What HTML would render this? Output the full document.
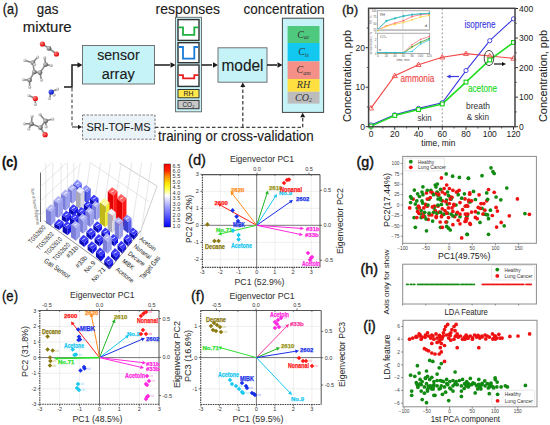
<!DOCTYPE html>
<html><head><meta charset="utf-8"><style>html,body{margin:0;padding:0;background:#fff;overflow:hidden}svg{display:block}</style></head>
<body><svg width="550" height="425" viewBox="0 0 550 425" font-family="Liberation Sans, sans-serif">
<rect width="550" height="425" fill="#fff"/>
<text x="2.70" y="13.60" font-size="14" fill="#1a1a1a" stroke="#1a1a1a" stroke-width="0.3" textLength="15.5" lengthAdjust="spacingAndGlyphs">(a)</text>
<text x="36.80" y="13.60" font-size="14" fill="#1a1a1a" stroke="#1a1a1a" stroke-width="0.15" textLength="21.5" lengthAdjust="spacingAndGlyphs">gas</text>
<text x="22.70" y="32.40" font-size="14" fill="#1a1a1a" stroke="#1a1a1a" stroke-width="0.15" textLength="49" lengthAdjust="spacingAndGlyphs">mixture</text>
<text x="155.50" y="14.20" font-size="15" fill="#1a1a1a" stroke="#1a1a1a" stroke-width="0.12" textLength="64.5" lengthAdjust="spacingAndGlyphs">responses</text>
<text x="243.60" y="13.80" font-size="15" fill="#1a1a1a" stroke="#1a1a1a" stroke-width="0.12" textLength="81" lengthAdjust="spacingAndGlyphs">concentration</text>
<defs>
<radialGradient id="gC" cx="35%" cy="35%" r="65%"><stop offset="0" stop-color="#d8d8d8"/><stop offset="1" stop-color="#555"/></radialGradient>
<radialGradient id="gH" cx="35%" cy="35%" r="65%"><stop offset="0" stop-color="#f4f4f4"/><stop offset="1" stop-color="#9a9a9a"/></radialGradient>
<radialGradient id="gO" cx="35%" cy="35%" r="65%"><stop offset="0" stop-color="#ff8080"/><stop offset="1" stop-color="#e00000"/></radialGradient>
<radialGradient id="gN" cx="35%" cy="35%" r="65%"><stop offset="0" stop-color="#6070ff"/><stop offset="1" stop-color="#0010c0"/></radialGradient>
<linearGradient id="cbar" x1="0" y1="0" x2="0" y2="1">
<stop offset="0" stop-color="#ff0000"/><stop offset="0.1" stop-color="#ff2000"/><stop offset="0.2" stop-color="#ff9000"/><stop offset="0.3" stop-color="#ffe000"/><stop offset="0.38" stop-color="#ffff30"/><stop offset="0.5" stop-color="#ffffff"/><stop offset="0.68" stop-color="#a0a0ff"/><stop offset="1" stop-color="#0000ff"/></linearGradient>
</defs>
<line x1="42.40" y1="44.00" x2="49.00" y2="48.40" stroke="#8a8a8a" stroke-width="1.6" />
<line x1="49.00" y1="48.40" x2="56.40" y2="54.00" stroke="#8a8a8a" stroke-width="1.6" />
<circle cx="42.40" cy="44.00" r="2.60" fill="url(#gO)" stroke="none" stroke-width="1"/>
<circle cx="49.00" cy="48.40" r="2.40" fill="url(#gC)" stroke="none" stroke-width="1"/>
<circle cx="56.40" cy="54.00" r="2.60" fill="url(#gO)" stroke="none" stroke-width="1"/>
<line x1="32.90" y1="62.70" x2="34.30" y2="72.10" stroke="#8a8a8a" stroke-width="1.6" />
<line x1="34.30" y1="72.10" x2="40.00" y2="72.60" stroke="#8a8a8a" stroke-width="1.6" />
<line x1="40.00" y1="72.60" x2="45.60" y2="64.60" stroke="#8a8a8a" stroke-width="1.6" />
<line x1="34.30" y1="72.10" x2="29.60" y2="80.10" stroke="#8a8a8a" stroke-width="1.6" />
<line x1="32.90" y1="62.70" x2="24.90" y2="60.40" stroke="#8a8a8a" stroke-width="1.6" />
<line x1="32.90" y1="62.70" x2="37.60" y2="57.10" stroke="#8a8a8a" stroke-width="1.6" />
<line x1="45.60" y1="64.60" x2="44.70" y2="57.50" stroke="#8a8a8a" stroke-width="1.6" />
<line x1="45.60" y1="64.60" x2="51.30" y2="65.50" stroke="#8a8a8a" stroke-width="1.6" />
<line x1="40.00" y1="72.60" x2="41.40" y2="80.10" stroke="#8a8a8a" stroke-width="1.6" />
<line x1="29.60" y1="80.10" x2="23.50" y2="79.70" stroke="#8a8a8a" stroke-width="1.6" />
<line x1="29.60" y1="80.10" x2="29.60" y2="87.20" stroke="#8a8a8a" stroke-width="1.6" />
<circle cx="32.90" cy="62.70" r="2.40" fill="url(#gC)" stroke="none" stroke-width="1"/>
<circle cx="34.30" cy="72.10" r="2.40" fill="url(#gC)" stroke="none" stroke-width="1"/>
<circle cx="40.00" cy="72.60" r="2.40" fill="url(#gC)" stroke="none" stroke-width="1"/>
<circle cx="45.60" cy="64.60" r="2.40" fill="url(#gC)" stroke="none" stroke-width="1"/>
<circle cx="29.60" cy="80.10" r="2.40" fill="url(#gC)" stroke="none" stroke-width="1"/>
<circle cx="24.90" cy="60.40" r="1.60" fill="url(#gH)" stroke="none" stroke-width="1"/>
<circle cx="37.60" cy="57.10" r="1.60" fill="url(#gH)" stroke="none" stroke-width="1"/>
<circle cx="44.70" cy="57.50" r="1.60" fill="url(#gH)" stroke="none" stroke-width="1"/>
<circle cx="51.30" cy="65.50" r="1.60" fill="url(#gH)" stroke="none" stroke-width="1"/>
<circle cx="41.40" cy="80.10" r="1.60" fill="url(#gH)" stroke="none" stroke-width="1"/>
<circle cx="23.50" cy="79.70" r="1.60" fill="url(#gH)" stroke="none" stroke-width="1"/>
<circle cx="29.60" cy="87.20" r="1.60" fill="url(#gH)" stroke="none" stroke-width="1"/>
<circle cx="34.50" cy="64.50" r="1.60" fill="url(#gH)" stroke="none" stroke-width="1"/>
<line x1="35.30" y1="98.50" x2="28.80" y2="95.60" stroke="#8a8a8a" stroke-width="1.6" />
<line x1="35.30" y1="98.50" x2="35.30" y2="104.40" stroke="#8a8a8a" stroke-width="1.6" />
<circle cx="35.30" cy="98.50" r="2.60" fill="url(#gO)" stroke="none" stroke-width="1"/>
<circle cx="28.80" cy="95.60" r="1.60" fill="url(#gH)" stroke="none" stroke-width="1"/>
<circle cx="35.30" cy="104.40" r="1.60" fill="url(#gH)" stroke="none" stroke-width="1"/>
<line x1="51.20" y1="92.00" x2="57.60" y2="89.10" stroke="#8a8a8a" stroke-width="1.6" />
<line x1="51.20" y1="92.00" x2="54.10" y2="95.00" stroke="#8a8a8a" stroke-width="1.6" />
<line x1="51.20" y1="92.00" x2="49.40" y2="98.50" stroke="#8a8a8a" stroke-width="1.6" />
<circle cx="51.20" cy="92.00" r="2.60" fill="url(#gN)" stroke="none" stroke-width="1"/>
<circle cx="57.60" cy="89.10" r="1.60" fill="url(#gH)" stroke="none" stroke-width="1"/>
<circle cx="54.10" cy="95.00" r="1.60" fill="url(#gH)" stroke="none" stroke-width="1"/>
<circle cx="49.40" cy="98.50" r="1.60" fill="url(#gH)" stroke="none" stroke-width="1"/>
<line x1="31.50" y1="123.80" x2="40.40" y2="127.60" stroke="#8a8a8a" stroke-width="1.6" />
<line x1="40.40" y1="127.60" x2="45.60" y2="121.00" stroke="#8a8a8a" stroke-width="1.6" />
<line x1="40.40" y1="127.60" x2="45.10" y2="134.70" stroke="#8a8a8a" stroke-width="1.6" />
<line x1="31.50" y1="123.80" x2="32.00" y2="116.30" stroke="#8a8a8a" stroke-width="1.6" />
<line x1="31.50" y1="123.80" x2="24.40" y2="123.80" stroke="#8a8a8a" stroke-width="1.6" />
<line x1="31.50" y1="123.80" x2="28.70" y2="129.00" stroke="#8a8a8a" stroke-width="1.6" />
<line x1="45.60" y1="121.00" x2="40.00" y2="114.40" stroke="#8a8a8a" stroke-width="1.6" />
<line x1="45.60" y1="121.00" x2="52.70" y2="119.10" stroke="#8a8a8a" stroke-width="1.6" />
<line x1="45.60" y1="121.00" x2="46.10" y2="126.70" stroke="#8a8a8a" stroke-width="1.6" />
<circle cx="31.50" cy="123.80" r="2.40" fill="url(#gC)" stroke="none" stroke-width="1"/>
<circle cx="40.40" cy="127.60" r="2.40" fill="url(#gC)" stroke="none" stroke-width="1"/>
<circle cx="45.60" cy="121.00" r="2.40" fill="url(#gC)" stroke="none" stroke-width="1"/>
<circle cx="45.10" cy="134.70" r="2.60" fill="url(#gO)" stroke="none" stroke-width="1"/>
<circle cx="32.00" cy="116.30" r="1.60" fill="url(#gH)" stroke="none" stroke-width="1"/>
<circle cx="24.40" cy="123.80" r="1.60" fill="url(#gH)" stroke="none" stroke-width="1"/>
<circle cx="28.70" cy="129.00" r="1.60" fill="url(#gH)" stroke="none" stroke-width="1"/>
<circle cx="40.00" cy="114.40" r="1.60" fill="url(#gH)" stroke="none" stroke-width="1"/>
<circle cx="52.70" cy="119.10" r="1.60" fill="url(#gH)" stroke="none" stroke-width="1"/>
<circle cx="46.10" cy="126.70" r="1.60" fill="url(#gH)" stroke="none" stroke-width="1"/>
<polyline points="64.00,87.00 72.00,87.00 72.00,65.00 78.00,65.00" fill="none" stroke="#1a1a1a" stroke-width="1.5" />
<polygon points="82.50,65.00 77.50,67.80 77.50,62.20" fill="#1a1a1a" stroke="none" stroke-width="1" />
<line x1="72.00" y1="88.00" x2="72.00" y2="127.00" stroke="#666" stroke-width="1.3" stroke-dasharray="3.5,2.2" />
<line x1="72.00" y1="127.00" x2="78.00" y2="127.00" stroke="#444" stroke-width="1.2" />
<polygon points="82.00,127.00 78.00,129.20 78.00,124.80" fill="#1a1a1a" stroke="none" stroke-width="1" />
<rect x="82.50" y="45.50" width="72.00" height="38.50" fill="#c5f3f8" stroke="#666" stroke-width="0.9" />
<text x="118.40" y="59.50" font-size="15.5" fill="#1a1a1a" stroke="#1a1a1a" stroke-width="0.12" text-anchor="middle" textLength="42.5" lengthAdjust="spacingAndGlyphs">sensor</text>
<text x="118.20" y="78.50" font-size="15.5" fill="#1a1a1a" stroke="#1a1a1a" stroke-width="0.12" text-anchor="middle" textLength="33" lengthAdjust="spacingAndGlyphs">array</text>
<line x1="154.50" y1="65.00" x2="170.00" y2="65.00" stroke="#1a1a1a" stroke-width="1.5" />
<polygon points="175.50,65.00 170.50,67.80 170.50,62.20" fill="#1a1a1a" stroke="none" stroke-width="1" />
<rect x="175.50" y="17.30" width="26.00" height="94.50" fill="#c5f3f8" stroke="#666" stroke-width="0.9" />
<rect x="178.00" y="19.60" width="21.00" height="20.80" fill="#fff" stroke="#333" stroke-width="1.4" />
<polyline points="178.80,27.30 183.00,27.30 183.00,34.80 194.30,34.80 194.30,27.30 198.20,27.30" fill="none" stroke="#20b040" stroke-width="1.8" />
<rect x="178.00" y="42.70" width="21.00" height="20.00" fill="#fff" stroke="#333" stroke-width="1.4" />
<polyline points="178.80,47.00 183.00,47.00 183.00,58.70 194.30,58.70 194.30,47.00 198.20,47.00" fill="none" stroke="#1a7ad8" stroke-width="1.8" />
<rect x="178.00" y="65.00" width="21.00" height="21.40" fill="#fff" stroke="#333" stroke-width="1.4" />
<polyline points="178.80,75.20 183.00,75.20 183.00,78.40 194.30,78.40 194.30,75.20 198.20,75.20" fill="none" stroke="#e82020" stroke-width="1.8" />
<rect x="178.00" y="89.50" width="21.00" height="8.30" fill="#ffe84a" stroke="#333" stroke-width="1" />
<text x="188.50" y="96.20" font-size="7.5" fill="#222" text-anchor="middle" textLength="10" lengthAdjust="spacingAndGlyphs">RH</text>
<rect x="178.00" y="100.40" width="21.00" height="8.30" fill="#c8c8c8" stroke="#333" stroke-width="1" />
<text x="188.50" y="107.20" font-size="7.5" fill="#222" text-anchor="middle" textLength="12" lengthAdjust="spacingAndGlyphs">CO₂</text>
<line x1="201.50" y1="65.00" x2="212.00" y2="65.00" stroke="#1a1a1a" stroke-width="1.5" />
<polygon points="218.00,65.00 213.00,67.80 213.00,62.20" fill="#1a1a1a" stroke="none" stroke-width="1" />
<rect x="218.00" y="47.80" width="49.00" height="34.40" fill="#c5f3f8" stroke="#666" stroke-width="0.9" />
<text x="242.50" y="70.50" font-size="16" fill="#1a1a1a" stroke="#1a1a1a" stroke-width="0.12" text-anchor="middle" textLength="42" lengthAdjust="spacingAndGlyphs">model</text>
<line x1="267.00" y1="65.00" x2="277.00" y2="65.00" stroke="#1a1a1a" stroke-width="1.5" />
<polygon points="282.50,65.00 277.50,67.80 277.50,62.20" fill="#1a1a1a" stroke="none" stroke-width="1" />
<rect x="282.40" y="18.20" width="41.20" height="94.20" fill="#c5f3f8" stroke="#444" stroke-width="1" />
<rect x="287.60" y="26.00" width="31.90" height="17.00" fill="#4fc97e" stroke="none" stroke-width="1" />
<text x="303.5" y="37.50" font-size="10" fill="#333" font-family="Liberation Serif" font-style="italic" text-anchor="middle">C<tspan font-size="6" dy="1.5">ac</tspan></text>
<rect x="287.60" y="43.00" width="31.90" height="18.30" fill="#12c8f0" stroke="none" stroke-width="1" />
<text x="303.5" y="55.15" font-size="10" fill="#333" font-family="Liberation Serif" font-style="italic" text-anchor="middle">C<tspan font-size="6" dy="1.5">is</tspan></text>
<rect x="287.60" y="61.30" width="31.90" height="17.70" fill="#f59088" stroke="none" stroke-width="1" />
<text x="303.5" y="73.15" font-size="10" fill="#333" font-family="Liberation Serif" font-style="italic" text-anchor="middle">C<tspan font-size="6" dy="1.5">am</tspan></text>
<rect x="287.60" y="79.00" width="31.90" height="12.80" fill="#ffe040" stroke="none" stroke-width="1" />
<text x="303.5" y="88.40" font-size="10" fill="#333" font-family="Liberation Serif" font-style="italic" text-anchor="middle">RH</text>
<rect x="287.60" y="91.80" width="31.90" height="11.80" fill="#bdbdbd" stroke="none" stroke-width="1" />
<text x="303.5" y="100.70" font-size="10" fill="#333" font-family="Liberation Serif" font-style="italic" text-anchor="middle">CO<tspan font-size="6" dy="1.5">2</tspan></text>
<rect x="82.50" y="115.00" width="72.50" height="24.20" fill="#eaf3f8" stroke="#777" stroke-width="1" stroke-dasharray="2.5,1.5" />
<text x="118.50" y="130.50" font-size="11.4" fill="#1a1a1a" stroke="#1a1a1a" stroke-width="0.08" text-anchor="middle" textLength="64" lengthAdjust="spacingAndGlyphs">SRI-TOF-MS</text>
<line x1="155.00" y1="127.30" x2="302.70" y2="127.30" stroke="#444" stroke-width="1.3" stroke-dasharray="3.5,2.2" />
<line x1="242.80" y1="127.30" x2="242.80" y2="87.00" stroke="#444" stroke-width="1.3" stroke-dasharray="3.5,2.2" />
<polygon points="242.80,82.50 245.30,87.00 240.30,87.00" fill="#1a1a1a" stroke="none" stroke-width="1" />
<line x1="302.70" y1="127.30" x2="302.70" y2="118.00" stroke="#444" stroke-width="1.3" stroke-dasharray="3.5,2.2" />
<polygon points="302.70,112.80 305.20,117.30 300.20,117.30" fill="#1a1a1a" stroke="none" stroke-width="1" />
<text x="158.00" y="141.00" font-size="14" fill="#1a1a1a" stroke="#1a1a1a" stroke-width="0.12" textLength="155.7" lengthAdjust="spacingAndGlyphs">training or cross-validation</text>
<text x="341.90" y="13.60" font-size="13.5" fill="#1a1a1a" stroke="#1a1a1a" stroke-width="0.3" textLength="16.4" lengthAdjust="spacingAndGlyphs">(b)</text>
<line x1="365.60" y1="126.70" x2="368.60" y2="126.70" stroke="#333" stroke-width="1" />
<text x="365.00" y="129.70" font-size="8.5" fill="#222" text-anchor="end">0</text>
<line x1="365.60" y1="87.20" x2="368.60" y2="87.20" stroke="#333" stroke-width="1" />
<text x="365.00" y="90.20" font-size="8.5" fill="#222" text-anchor="end">10</text>
<line x1="365.60" y1="47.70" x2="368.60" y2="47.70" stroke="#333" stroke-width="1" />
<text x="365.00" y="50.70" font-size="8.5" fill="#222" text-anchor="end">20</text>
<line x1="366.80" y1="106.95" x2="368.60" y2="106.95" stroke="#333" stroke-width="0.8" />
<line x1="366.80" y1="67.45" x2="368.60" y2="67.45" stroke="#333" stroke-width="0.8" />
<line x1="366.80" y1="27.95" x2="368.60" y2="27.95" stroke="#333" stroke-width="0.8" />
<line x1="515.00" y1="126.70" x2="518.00" y2="126.70" stroke="#333" stroke-width="1" />
<text x="519.00" y="129.70" font-size="8.5" fill="#222">0</text>
<line x1="515.00" y1="97.15" x2="518.00" y2="97.15" stroke="#333" stroke-width="1" />
<text x="519.00" y="100.15" font-size="8.5" fill="#222">100</text>
<line x1="515.00" y1="67.60" x2="518.00" y2="67.60" stroke="#333" stroke-width="1" />
<text x="519.00" y="70.60" font-size="8.5" fill="#222">200</text>
<line x1="515.00" y1="38.05" x2="518.00" y2="38.05" stroke="#333" stroke-width="1" />
<text x="519.00" y="41.05" font-size="8.5" fill="#222">300</text>
<line x1="515.00" y1="8.50" x2="518.00" y2="8.50" stroke="#333" stroke-width="1" />
<text x="519.00" y="11.50" font-size="8.5" fill="#222">400</text>
<line x1="515.00" y1="111.93" x2="516.80" y2="111.93" stroke="#333" stroke-width="0.8" />
<line x1="515.00" y1="82.38" x2="516.80" y2="82.38" stroke="#333" stroke-width="0.8" />
<line x1="515.00" y1="52.83" x2="516.80" y2="52.83" stroke="#333" stroke-width="0.8" />
<line x1="515.00" y1="23.28" x2="516.80" y2="23.28" stroke="#333" stroke-width="0.8" />
<line x1="371.00" y1="126.70" x2="371.00" y2="129.70" stroke="#333" stroke-width="1" />
<text x="371.00" y="136.80" font-size="8.5" fill="#222" text-anchor="middle">0</text>
<line x1="394.75" y1="126.70" x2="394.75" y2="129.70" stroke="#333" stroke-width="1" />
<text x="394.75" y="136.80" font-size="8.5" fill="#222" text-anchor="middle">20</text>
<line x1="418.50" y1="126.70" x2="418.50" y2="129.70" stroke="#333" stroke-width="1" />
<text x="418.50" y="136.80" font-size="8.5" fill="#222" text-anchor="middle">40</text>
<line x1="442.25" y1="126.70" x2="442.25" y2="129.70" stroke="#333" stroke-width="1" />
<text x="442.25" y="136.80" font-size="8.5" fill="#222" text-anchor="middle">60</text>
<line x1="466.00" y1="126.70" x2="466.00" y2="129.70" stroke="#333" stroke-width="1" />
<text x="466.00" y="136.80" font-size="8.5" fill="#222" text-anchor="middle">80</text>
<line x1="489.75" y1="126.70" x2="489.75" y2="129.70" stroke="#333" stroke-width="1" />
<text x="489.75" y="136.80" font-size="8.5" fill="#222" text-anchor="middle">100</text>
<line x1="513.50" y1="126.70" x2="513.50" y2="129.70" stroke="#333" stroke-width="1" />
<text x="513.50" y="136.80" font-size="8.5" fill="#222" text-anchor="middle">120</text>
<line x1="382.88" y1="126.70" x2="382.88" y2="128.50" stroke="#333" stroke-width="0.8" />
<line x1="406.62" y1="126.70" x2="406.62" y2="128.50" stroke="#333" stroke-width="0.8" />
<line x1="430.38" y1="126.70" x2="430.38" y2="128.50" stroke="#333" stroke-width="0.8" />
<line x1="454.12" y1="126.70" x2="454.12" y2="128.50" stroke="#333" stroke-width="0.8" />
<line x1="477.88" y1="126.70" x2="477.88" y2="128.50" stroke="#333" stroke-width="0.8" />
<line x1="501.62" y1="126.70" x2="501.62" y2="128.50" stroke="#333" stroke-width="0.8" />
<text x="421.30" y="146.30" font-size="9" fill="#222" stroke="#222" stroke-width="0.05" textLength="34" lengthAdjust="spacingAndGlyphs">time, min</text>
<text x="351.00" y="76.00" font-size="11" fill="#222" stroke="#222" stroke-width="0.05" text-anchor="middle" transform="rotate(-90 351.00 76.00)" textLength="92" lengthAdjust="spacingAndGlyphs">Concentration, ppb</text>
<text x="546.50" y="76.00" font-size="11" fill="#222" stroke="#222" stroke-width="0.05" text-anchor="middle" transform="rotate(-90 546.50 76.00)" textLength="92" lengthAdjust="spacingAndGlyphs">Concentration, ppb</text>
<line x1="442.25" y1="8.30" x2="442.25" y2="126.70" stroke="#999" stroke-width="1" stroke-dasharray="2,2" />
<polyline points="371.00,108.14 394.75,75.75 418.50,64.69 442.25,57.18 466.00,53.62 489.75,56.00 513.50,58.36" fill="none" stroke="#f04848" stroke-width="1.1" />
<polyline points="371.00,124.93 394.75,114.88 418.50,108.38 442.25,102.76 466.00,70.56 489.75,40.71 513.50,18.84" fill="none" stroke="#3a3ae0" stroke-width="1.1" />
<polyline points="371.00,126.11 394.75,115.47 418.50,109.56 442.25,103.95 466.00,82.08 489.75,59.92 513.50,42.48" fill="none" stroke="#22dd22" stroke-width="1.6" />
<polygon points="371.00,105.54 373.60,109.94 368.40,109.94" fill="none" stroke="#f04848" stroke-width="0.9" />
<polygon points="394.75,73.15 397.35,77.55 392.15,77.55" fill="none" stroke="#f04848" stroke-width="0.9" />
<polygon points="418.50,62.09 421.10,66.48 415.90,66.48" fill="none" stroke="#f04848" stroke-width="0.9" />
<polygon points="442.25,54.58 444.85,58.98 439.65,58.98" fill="none" stroke="#f04848" stroke-width="0.9" />
<polygon points="466.00,51.02 468.60,55.42 463.40,55.42" fill="none" stroke="#f04848" stroke-width="0.9" />
<polygon points="489.75,53.40 492.35,57.80 487.15,57.80" fill="none" stroke="#f04848" stroke-width="0.9" />
<polygon points="513.50,55.76 516.10,60.16 510.90,60.16" fill="none" stroke="#f04848" stroke-width="0.9" />
<circle cx="371.00" cy="124.93" r="2.10" fill="#fff" stroke="#3a3ae0" stroke-width="0.9"/>
<circle cx="394.75" cy="114.88" r="2.10" fill="#fff" stroke="#3a3ae0" stroke-width="0.9"/>
<circle cx="418.50" cy="108.38" r="2.10" fill="#fff" stroke="#3a3ae0" stroke-width="0.9"/>
<circle cx="442.25" cy="102.76" r="2.10" fill="#fff" stroke="#3a3ae0" stroke-width="0.9"/>
<circle cx="466.00" cy="70.56" r="2.10" fill="#fff" stroke="#3a3ae0" stroke-width="0.9"/>
<circle cx="489.75" cy="40.71" r="2.10" fill="#fff" stroke="#3a3ae0" stroke-width="0.9"/>
<circle cx="513.50" cy="18.84" r="2.10" fill="#fff" stroke="#3a3ae0" stroke-width="0.9"/>
<rect x="369.10" y="124.21" width="3.80" height="3.80" fill="#fff" stroke="#18d018" stroke-width="1.1" />
<rect x="392.85" y="113.57" width="3.80" height="3.80" fill="#fff" stroke="#18d018" stroke-width="1.1" />
<rect x="416.60" y="107.66" width="3.80" height="3.80" fill="#fff" stroke="#18d018" stroke-width="1.1" />
<rect x="440.35" y="102.05" width="3.80" height="3.80" fill="#fff" stroke="#18d018" stroke-width="1.1" />
<rect x="464.10" y="80.18" width="3.80" height="3.80" fill="#fff" stroke="#18d018" stroke-width="1.1" />
<rect x="487.85" y="58.02" width="3.80" height="3.80" fill="#fff" stroke="#18d018" stroke-width="1.1" />
<rect x="511.60" y="40.58" width="3.80" height="3.80" fill="#fff" stroke="#18d018" stroke-width="1.1" />
<rect x="368.60" y="8.30" width="146.40" height="118.40" fill="none" stroke="#444" stroke-width="1.5" />
<text x="400.40" y="82.30" font-size="10.5" fill="#f04848" stroke="#f04848" stroke-width="0.15" textLength="34" lengthAdjust="spacingAndGlyphs">ammonia</text>
<text x="464.40" y="27.50" font-size="10.5" fill="#3a3ae0" stroke="#3a3ae0" stroke-width="0.15" textLength="31" lengthAdjust="spacingAndGlyphs">isoprene</text>
<text x="468.00" y="91.80" font-size="10.5" fill="#18d818" stroke="#18d818" stroke-width="0.15" textLength="29" lengthAdjust="spacingAndGlyphs">acetone</text>
<text x="417.60" y="120.50" font-size="9" fill="#333" textLength="14" lengthAdjust="spacingAndGlyphs">skin</text>
<text x="466.00" y="109.20" font-size="9" fill="#333" textLength="24" lengthAdjust="spacingAndGlyphs">breath</text>
<text x="466.70" y="119.50" font-size="9" fill="#333" textLength="22.3" lengthAdjust="spacingAndGlyphs">&amp; skin</text>
<ellipse cx="489" cy="58" rx="4.8" ry="7.6" fill="none" stroke="#333" stroke-width="0.9"/>
<line x1="494.00" y1="64.00" x2="503.60" y2="64.00" stroke="#111" stroke-width="1.2" />
<polygon points="506.00,64.00 502.00,66.00 502.00,62.00" fill="#111" stroke="none" stroke-width="1" />
<line x1="459.00" y1="76.50" x2="448.90" y2="76.50" stroke="#3a3ae0" stroke-width="1.2" />
<polygon points="446.50,76.50 450.50,74.50 450.50,78.50" fill="#3a3ae0" stroke="none" stroke-width="1" />
<rect x="377.30" y="10.80" width="52.40" height="19.40" fill="#fff" stroke="#888" stroke-width="0.7" />
<rect x="377.30" y="33.20" width="52.40" height="20.30" fill="#fff" stroke="#888" stroke-width="0.7" />
<line x1="402.90" y1="10.80" x2="402.90" y2="30.20" stroke="#aaa" stroke-width="0.5" />
<line x1="402.90" y1="33.20" x2="402.90" y2="53.50" stroke="#aaa" stroke-width="0.5" />
<polyline points="377.80,29.68 386.37,20.63 394.93,18.04 403.50,15.97 412.07,14.42 420.63,13.90 429.20,13.39" fill="none" stroke="#30b8c0" stroke-width="0.7" />
<circle cx="377.80" cy="29.68" r="0.90" fill="#30b8c0" stroke="none" stroke-width="1"/>
<circle cx="386.37" cy="20.63" r="0.90" fill="#30b8c0" stroke="none" stroke-width="1"/>
<circle cx="394.93" cy="18.04" r="0.90" fill="#30b8c0" stroke="none" stroke-width="1"/>
<circle cx="403.50" cy="15.97" r="0.90" fill="#30b8c0" stroke="none" stroke-width="1"/>
<circle cx="412.07" cy="14.42" r="0.90" fill="#30b8c0" stroke="none" stroke-width="1"/>
<circle cx="420.63" cy="13.90" r="0.90" fill="#30b8c0" stroke="none" stroke-width="1"/>
<circle cx="429.20" cy="13.39" r="0.90" fill="#30b8c0" stroke="none" stroke-width="1"/>
<polyline points="377.80,30.20 386.37,25.80 394.93,23.22 403.50,20.63 412.07,16.49 420.63,14.68 429.20,13.90" fill="none" stroke="#ff6070" stroke-width="0.7" />
<circle cx="377.80" cy="30.20" r="0.90" fill="#ff6070" stroke="none" stroke-width="1"/>
<circle cx="386.37" cy="25.80" r="0.90" fill="#ff6070" stroke="none" stroke-width="1"/>
<circle cx="394.93" cy="23.22" r="0.90" fill="#ff6070" stroke="none" stroke-width="1"/>
<circle cx="403.50" cy="20.63" r="0.90" fill="#ff6070" stroke="none" stroke-width="1"/>
<circle cx="412.07" cy="16.49" r="0.90" fill="#ff6070" stroke="none" stroke-width="1"/>
<circle cx="420.63" cy="14.68" r="0.90" fill="#ff6070" stroke="none" stroke-width="1"/>
<circle cx="429.20" cy="13.90" r="0.90" fill="#ff6070" stroke="none" stroke-width="1"/>
<polyline points="377.80,30.72 386.37,26.32 394.93,24.25 403.50,22.44 412.07,19.85 420.63,17.01 429.20,15.46" fill="none" stroke="#ffd040" stroke-width="0.7" />
<circle cx="377.80" cy="30.72" r="0.90" fill="#ffd040" stroke="none" stroke-width="1"/>
<circle cx="386.37" cy="26.32" r="0.90" fill="#ffd040" stroke="none" stroke-width="1"/>
<circle cx="394.93" cy="24.25" r="0.90" fill="#ffd040" stroke="none" stroke-width="1"/>
<circle cx="403.50" cy="22.44" r="0.90" fill="#ffd040" stroke="none" stroke-width="1"/>
<circle cx="412.07" cy="19.85" r="0.90" fill="#ffd040" stroke="none" stroke-width="1"/>
<circle cx="420.63" cy="17.01" r="0.90" fill="#ffd040" stroke="none" stroke-width="1"/>
<circle cx="429.20" cy="15.46" r="0.90" fill="#ffd040" stroke="none" stroke-width="1"/>
<polyline points="377.80,29.42 386.37,21.15 394.93,18.56 403.50,16.23 412.07,14.68 420.63,13.90 429.20,13.39" fill="none" stroke="#30b8c0" stroke-width="0.7" />
<circle cx="377.80" cy="29.42" r="0.90" fill="#30b8c0" stroke="none" stroke-width="1"/>
<circle cx="386.37" cy="21.15" r="0.90" fill="#30b8c0" stroke="none" stroke-width="1"/>
<circle cx="394.93" cy="18.56" r="0.90" fill="#30b8c0" stroke="none" stroke-width="1"/>
<circle cx="403.50" cy="16.23" r="0.90" fill="#30b8c0" stroke="none" stroke-width="1"/>
<circle cx="412.07" cy="14.68" r="0.90" fill="#30b8c0" stroke="none" stroke-width="1"/>
<circle cx="420.63" cy="13.90" r="0.90" fill="#30b8c0" stroke="none" stroke-width="1"/>
<circle cx="429.20" cy="13.39" r="0.90" fill="#30b8c0" stroke="none" stroke-width="1"/>
<polyline points="377.80,52.82 386.37,52.82 394.93,52.82 403.50,52.82 412.07,44.70 420.63,39.29 429.20,36.58" fill="none" stroke="#ff6070" stroke-width="0.7" />
<circle cx="377.80" cy="52.82" r="0.80" fill="#ff6070" stroke="none" stroke-width="1"/>
<circle cx="386.37" cy="52.82" r="0.80" fill="#ff6070" stroke="none" stroke-width="1"/>
<circle cx="394.93" cy="52.82" r="0.80" fill="#ff6070" stroke="none" stroke-width="1"/>
<circle cx="403.50" cy="52.82" r="0.80" fill="#ff6070" stroke="none" stroke-width="1"/>
<circle cx="412.07" cy="44.70" r="0.80" fill="#ff6070" stroke="none" stroke-width="1"/>
<circle cx="420.63" cy="39.29" r="0.80" fill="#ff6070" stroke="none" stroke-width="1"/>
<circle cx="429.20" cy="36.58" r="0.80" fill="#ff6070" stroke="none" stroke-width="1"/>
<polyline points="377.80,52.82 386.37,52.82 394.93,52.82 403.50,52.82 412.07,47.41 420.63,42.67 429.20,39.29" fill="none" stroke="#ffd040" stroke-width="0.7" />
<circle cx="377.80" cy="52.82" r="0.80" fill="#ffd040" stroke="none" stroke-width="1"/>
<circle cx="386.37" cy="52.82" r="0.80" fill="#ffd040" stroke="none" stroke-width="1"/>
<circle cx="394.93" cy="52.82" r="0.80" fill="#ffd040" stroke="none" stroke-width="1"/>
<circle cx="403.50" cy="52.82" r="0.80" fill="#ffd040" stroke="none" stroke-width="1"/>
<circle cx="412.07" cy="47.41" r="0.80" fill="#ffd040" stroke="none" stroke-width="1"/>
<circle cx="420.63" cy="42.67" r="0.80" fill="#ffd040" stroke="none" stroke-width="1"/>
<circle cx="429.20" cy="39.29" r="0.80" fill="#ffd040" stroke="none" stroke-width="1"/>
<polyline points="377.80,52.82 386.37,52.82 394.93,52.82 403.50,52.82 412.07,46.73 420.63,42.00 429.20,38.61" fill="none" stroke="#20a050" stroke-width="0.7" />
<circle cx="377.80" cy="52.82" r="0.80" fill="#20a050" stroke="none" stroke-width="1"/>
<circle cx="386.37" cy="52.82" r="0.80" fill="#20a050" stroke="none" stroke-width="1"/>
<circle cx="394.93" cy="52.82" r="0.80" fill="#20a050" stroke="none" stroke-width="1"/>
<circle cx="403.50" cy="52.82" r="0.80" fill="#20a050" stroke="none" stroke-width="1"/>
<circle cx="412.07" cy="46.73" r="0.80" fill="#20a050" stroke="none" stroke-width="1"/>
<circle cx="420.63" cy="42.00" r="0.80" fill="#20a050" stroke="none" stroke-width="1"/>
<circle cx="429.20" cy="38.61" r="0.80" fill="#20a050" stroke="none" stroke-width="1"/>
<polyline points="377.80,52.48 386.37,52.48 394.93,52.48 403.50,52.48 412.07,51.47 420.63,44.03 429.20,39.97" fill="none" stroke="#20c0f0" stroke-width="0.7" />
<circle cx="377.80" cy="52.48" r="0.80" fill="#20c0f0" stroke="none" stroke-width="1"/>
<circle cx="386.37" cy="52.48" r="0.80" fill="#20c0f0" stroke="none" stroke-width="1"/>
<circle cx="394.93" cy="52.48" r="0.80" fill="#20c0f0" stroke="none" stroke-width="1"/>
<circle cx="403.50" cy="52.48" r="0.80" fill="#20c0f0" stroke="none" stroke-width="1"/>
<circle cx="412.07" cy="51.47" r="0.80" fill="#20c0f0" stroke="none" stroke-width="1"/>
<circle cx="420.63" cy="44.03" r="0.80" fill="#20c0f0" stroke="none" stroke-width="1"/>
<circle cx="429.20" cy="39.97" r="0.80" fill="#20c0f0" stroke="none" stroke-width="1"/>
<rect x="377.30" y="29.00" width="52.40" height="1.20" fill="#ccc" stroke="none" stroke-width="1" />
<text x="380.00" y="15.50" font-size="3.5" fill="#555">RH</text>
<text x="380.00" y="38.00" font-size="3.5" fill="#555">CO₂</text>
<text x="427.00" y="27.00" font-size="4" fill="#333" text-anchor="end">d</text>
<text x="379.00" y="51.00" font-size="4" fill="#333">e</text>
<text x="376.50" y="31.20" font-size="3" fill="#555" text-anchor="end">25</text>
<text x="376.50" y="24.73" font-size="3" fill="#555" text-anchor="end">50</text>
<text x="376.50" y="18.27" font-size="3" fill="#555" text-anchor="end">75</text>
<text x="376.50" y="11.80" font-size="3" fill="#555" text-anchor="end">100</text>
<text x="376.50" y="54.50" font-size="3" fill="#555" text-anchor="end">0</text>
<text x="376.50" y="47.73" font-size="3" fill="#555" text-anchor="end">1</text>
<text x="376.50" y="40.97" font-size="3" fill="#555" text-anchor="end">2</text>
<text x="376.50" y="34.20" font-size="3" fill="#555" text-anchor="end">3</text>
<text x="377.80" y="57.00" font-size="3" fill="#555" text-anchor="middle">0</text>
<text x="386.37" y="57.00" font-size="3" fill="#555" text-anchor="middle">20</text>
<text x="394.93" y="57.00" font-size="3" fill="#555" text-anchor="middle">40</text>
<text x="403.50" y="57.00" font-size="3" fill="#555" text-anchor="middle">60</text>
<text x="412.07" y="57.00" font-size="3" fill="#555" text-anchor="middle">80</text>
<text x="420.63" y="57.00" font-size="3" fill="#555" text-anchor="middle">100</text>
<text x="429.20" y="57.00" font-size="3" fill="#555" text-anchor="middle">120</text>
<text x="403.00" y="61.00" font-size="3.2" fill="#555" text-anchor="middle">time, min</text>
<text x="372.00" y="20.00" font-size="3" fill="#777" text-anchor="middle" transform="rotate(-90 372.00 20.00)">RH, %</text>
<text x="372.00" y="43.00" font-size="3" fill="#777" text-anchor="middle" transform="rotate(-90 372.00 43.00)">concentration, %</text>
<text x="2.00" y="167.00" font-size="14" fill="#111" stroke="#111" stroke-width="0.3" font-weight="bold" textLength="15.5" lengthAdjust="spacingAndGlyphs">(c)</text>
<line x1="40.50" y1="172.50" x2="40.50" y2="222.00" stroke="#555" stroke-width="0.9" />
<line x1="40.50" y1="173.00" x2="51.58" y2="162.70" stroke="#d6d6d6" stroke-width="0.6" />
<line x1="40.50" y1="187.00" x2="66.63" y2="162.70" stroke="#d6d6d6" stroke-width="0.6" />
<line x1="40.50" y1="201.00" x2="78.00" y2="166.12" stroke="#d6d6d6" stroke-width="0.6" />
<line x1="40.50" y1="215.00" x2="78.00" y2="180.12" stroke="#d6d6d6" stroke-width="0.6" />
<line x1="45.80" y1="162.70" x2="45.80" y2="217.76" stroke="#d6d6d6" stroke-width="0.6" />
<line x1="52.80" y1="162.70" x2="52.80" y2="212.16" stroke="#d6d6d6" stroke-width="0.6" />
<line x1="61.10" y1="162.70" x2="61.10" y2="205.52" stroke="#d6d6d6" stroke-width="0.6" />
<line x1="67.40" y1="162.70" x2="67.40" y2="200.48" stroke="#d6d6d6" stroke-width="0.6" />
<line x1="73.80" y1="162.70" x2="73.80" y2="195.36" stroke="#d6d6d6" stroke-width="0.6" />
<line x1="119.00" y1="162.70" x2="157.10" y2="186.10" stroke="#bbb" stroke-width="0.7" />
<line x1="90.30" y1="162.70" x2="148.70" y2="201.60" stroke="#d6d6d6" stroke-width="0.6" />
<line x1="157.10" y1="186.10" x2="140.30" y2="232.00" stroke="#bbb" stroke-width="0.7" />
<line x1="80.20" y1="162.70" x2="75.65" y2="193.02" stroke="#d6d6d6" stroke-width="0.6" />
<line x1="90.30" y1="162.70" x2="84.54" y2="201.10" stroke="#d6d6d6" stroke-width="0.6" />
<line x1="100.60" y1="162.70" x2="93.60" y2="209.34" stroke="#d6d6d6" stroke-width="0.6" />
<line x1="110.50" y1="162.70" x2="102.32" y2="217.26" stroke="#d6d6d6" stroke-width="0.6" />
<line x1="121.10" y1="162.70" x2="111.64" y2="225.74" stroke="#d6d6d6" stroke-width="0.6" />
<line x1="131.70" y1="162.70" x2="120.97" y2="234.22" stroke="#d6d6d6" stroke-width="0.6" />
<line x1="141.60" y1="162.70" x2="129.68" y2="242.14" stroke="#d6d6d6" stroke-width="0.6" />
<line x1="151.50" y1="162.70" x2="138.40" y2="250.06" stroke="#d6d6d6" stroke-width="0.6" />
<polygon points="73.20,194.01 77.92,197.36 77.92,187.06 73.20,183.71" fill="#3a40d0" stroke="none" stroke-width="1" />
<polygon points="77.92,197.36 81.83,193.41 81.83,183.11 77.92,187.06" fill="#5a60f0" stroke="none" stroke-width="1" />
<polygon points="73.20,183.71 77.92,187.06 81.83,183.11 77.15,179.62" fill="#8a90fa" stroke="none" stroke-width="1" />
<line x1="76.02" y1="184.21" x2="79.02" y2="182.61" stroke="#fff" stroke-width="0.8" />
<polygon points="67.88,200.67 72.66,203.77 72.66,191.30 67.88,188.20" fill="#7a7ed8" stroke="none" stroke-width="1" />
<polygon points="72.66,203.77 76.53,199.87 76.53,187.40 72.66,191.30" fill="#9ca0ec" stroke="none" stroke-width="1" />
<polygon points="67.88,188.20 72.66,191.30 76.53,187.40 71.79,184.15" fill="#b0b4f4" stroke="none" stroke-width="1" />
<line x1="70.70" y1="188.60" x2="73.70" y2="187.00" stroke="#fff" stroke-width="0.8" />
<polygon points="82.16,199.61 86.88,203.03 86.88,192.28 82.16,188.86" fill="#3a40d0" stroke="none" stroke-width="1" />
<polygon points="86.88,203.03 90.73,199.27 90.73,188.52 86.88,192.28" fill="#5a60f0" stroke="none" stroke-width="1" />
<polygon points="82.16,188.86 86.88,192.28 90.73,188.52 86.05,185.00" fill="#8a90fa" stroke="none" stroke-width="1" />
<line x1="84.94" y1="189.49" x2="87.94" y2="187.89" stroke="#fff" stroke-width="0.8" />
<polygon points="61.00,207.79 65.84,210.65 65.84,196.59 61.00,193.73" fill="#7a7ed8" stroke="none" stroke-width="1" />
<polygon points="65.84,210.65 69.99,206.47 69.99,192.40 65.84,196.59" fill="#9ca0ec" stroke="none" stroke-width="1" />
<polygon points="61.00,193.73 65.84,196.59 69.99,192.40 65.18,189.40" fill="#b0b4f4" stroke="none" stroke-width="1" />
<line x1="63.99" y1="193.87" x2="66.99" y2="192.27" stroke="#fff" stroke-width="0.8" />
<polygon points="75.98,205.89 80.76,209.14 80.76,194.04 75.98,190.79" fill="#a8a8b8" stroke="none" stroke-width="1" />
<polygon points="80.76,209.14 84.56,205.42 84.56,190.32 80.76,194.04" fill="#d8d8e4" stroke="none" stroke-width="1" />
<polygon points="75.98,190.79 80.76,194.04 84.56,190.32 79.82,186.97" fill="#eeeef8" stroke="none" stroke-width="1" />
<line x1="78.77" y1="191.36" x2="81.77" y2="189.76" stroke="#fff" stroke-width="0.8" />
<polygon points="90.02,205.33 94.74,208.83 94.74,201.95 90.02,198.45" fill="#0a0ab4" stroke="none" stroke-width="1" />
<polygon points="94.74,208.83 98.52,205.18 98.52,198.30 94.74,201.95" fill="#1414e8" stroke="none" stroke-width="1" />
<polygon points="90.02,198.45 94.74,201.95 98.52,198.30 93.84,194.75" fill="#3a3af8" stroke="none" stroke-width="1" />
<line x1="92.77" y1="199.18" x2="95.77" y2="197.58" stroke="#fff" stroke-width="0.8" />
<polygon points="53.61,215.43 58.53,218.04 58.53,203.20 53.61,200.59" fill="#7a7ed8" stroke="none" stroke-width="1" />
<polygon points="58.53,218.04 62.98,213.54 62.98,198.71 58.53,203.20" fill="#9ca0ec" stroke="none" stroke-width="1" />
<polygon points="53.61,200.59 58.53,203.20 62.98,198.71 58.11,195.95" fill="#b0b4f4" stroke="none" stroke-width="1" />
<line x1="56.80" y1="200.45" x2="59.80" y2="198.85" stroke="#fff" stroke-width="0.8" />
<polygon points="69.07,212.63 73.92,215.70 73.92,211.40 69.07,208.33" fill="#0a0ab4" stroke="none" stroke-width="1" />
<polygon points="73.92,215.70 77.99,211.70 77.99,207.40 73.92,211.40" fill="#1414e8" stroke="none" stroke-width="1" />
<polygon points="69.07,208.33 73.92,211.40 77.99,207.40 73.19,204.23" fill="#3a3af8" stroke="none" stroke-width="1" />
<line x1="72.03" y1="208.67" x2="75.03" y2="207.07" stroke="#fff" stroke-width="0.8" />
<polygon points="83.80,211.35 88.58,214.74 88.58,207.86 83.80,204.47" fill="#0a0ab4" stroke="none" stroke-width="1" />
<polygon points="88.58,214.74 92.32,211.14 92.32,204.26 88.58,207.86" fill="#1414e8" stroke="none" stroke-width="1" />
<polygon points="83.80,204.47 88.58,207.86 92.32,204.26 87.58,200.81" fill="#3a3af8" stroke="none" stroke-width="1" />
<line x1="86.56" y1="205.17" x2="89.56" y2="203.57" stroke="#fff" stroke-width="0.8" />
<polygon points="97.88,211.18 102.60,214.75 102.60,209.16 97.88,205.59" fill="#0a0ab4" stroke="none" stroke-width="1" />
<polygon points="102.60,214.75 106.31,211.14 106.31,205.55 102.60,209.16" fill="#1414e8" stroke="none" stroke-width="1" />
<polygon points="97.88,205.59 102.60,209.16 106.31,205.55 101.64,201.97" fill="#3a3af8" stroke="none" stroke-width="1" />
<line x1="100.60" y1="206.37" x2="103.60" y2="204.77" stroke="#fff" stroke-width="0.8" />
<polygon points="46.01,223.28 51.00,225.65 51.00,211.46 46.01,209.09" fill="#7a7ed8" stroke="none" stroke-width="1" />
<polygon points="51.00,225.65 55.45,221.15 55.45,206.96 51.00,211.46" fill="#9ca0ec" stroke="none" stroke-width="1" />
<polygon points="46.01,209.09 51.00,211.46 55.45,206.96 50.51,204.45" fill="#b0b4f4" stroke="none" stroke-width="1" />
<line x1="49.23" y1="208.83" x2="52.23" y2="207.23" stroke="#fff" stroke-width="0.8" />
<polygon points="61.81,219.88 66.73,222.78 66.73,218.05 61.81,215.15" fill="#0a0ab4" stroke="none" stroke-width="1" />
<polygon points="66.73,222.78 71.10,218.47 71.10,213.74 66.73,218.05" fill="#1414e8" stroke="none" stroke-width="1" />
<polygon points="61.81,215.15 66.73,218.05 71.10,213.74 66.23,210.73" fill="#3a3af8" stroke="none" stroke-width="1" />
<line x1="64.96" y1="215.24" x2="67.96" y2="213.64" stroke="#fff" stroke-width="0.8" />
<polygon points="77.15,217.83 81.99,221.12 81.99,214.24 77.15,210.95" fill="#0a0ab4" stroke="none" stroke-width="1" />
<polygon points="81.99,221.12 86.00,217.24 86.00,210.36 81.99,214.24" fill="#1414e8" stroke="none" stroke-width="1" />
<polygon points="77.15,210.95 81.99,214.24 86.00,210.36 81.20,207.00" fill="#3a3af8" stroke="none" stroke-width="1" />
<line x1="80.07" y1="211.45" x2="83.07" y2="209.85" stroke="#fff" stroke-width="0.8" />
<polygon points="91.77,217.05 96.55,220.59 96.55,208.12 91.77,204.58" fill="#7a7ed8" stroke="none" stroke-width="1" />
<polygon points="96.55,220.59 100.22,217.03 100.22,204.56 96.55,208.12" fill="#9ca0ec" stroke="none" stroke-width="1" />
<polygon points="91.77,204.58 96.55,208.12 100.22,204.56 95.48,201.01" fill="#b0b4f4" stroke="none" stroke-width="1" />
<line x1="94.50" y1="205.37" x2="97.50" y2="203.77" stroke="#fff" stroke-width="0.8" />
<polygon points="107.74,217.13 113.25,221.38 113.25,195.59 107.74,191.34" fill="#e00000" stroke="none" stroke-width="1" />
<polygon points="113.25,221.38 117.51,217.13 117.51,191.34 113.25,195.59" fill="#ff1a1a" stroke="none" stroke-width="1" />
<polygon points="107.74,191.34 113.25,195.59 117.51,191.34 112.06,187.13" fill="#ff6060" stroke="none" stroke-width="1" />
<line x1="111.12" y1="192.14" x2="114.12" y2="190.54" stroke="#fff" stroke-width="0.8" />
<polygon points="54.33,227.35 59.32,230.09 59.32,226.22 54.33,223.48" fill="#0a0ab4" stroke="none" stroke-width="1" />
<polygon points="59.32,230.09 63.70,225.77 63.70,221.90 59.32,226.22" fill="#1414e8" stroke="none" stroke-width="1" />
<polygon points="54.33,223.48 59.32,226.22 63.70,221.90 58.75,219.07" fill="#3a3af8" stroke="none" stroke-width="1" />
<line x1="57.52" y1="223.49" x2="60.52" y2="221.89" stroke="#fff" stroke-width="0.8" />
<polygon points="70.00,224.82 74.92,228.01 74.92,220.70 70.00,217.51" fill="#0a0ab4" stroke="none" stroke-width="1" />
<polygon points="74.92,228.01 79.23,223.81 79.23,216.50 74.92,220.70" fill="#1414e8" stroke="none" stroke-width="1" />
<polygon points="70.00,217.51 74.92,220.70 79.23,216.50 74.35,213.25" fill="#3a3af8" stroke="none" stroke-width="1" />
<line x1="73.11" y1="217.81" x2="76.11" y2="216.21" stroke="#fff" stroke-width="0.8" />
<polygon points="85.22,223.39 90.07,226.90 90.07,214.43 85.22,210.92" fill="#7a7ed8" stroke="none" stroke-width="1" />
<polygon points="90.07,226.90 94.01,223.06 94.01,210.59 90.07,214.43" fill="#9ca0ec" stroke="none" stroke-width="1" />
<polygon points="85.22,210.92 90.07,214.43 94.01,210.59 89.20,207.06" fill="#b0b4f4" stroke="none" stroke-width="1" />
<line x1="88.12" y1="211.56" x2="91.12" y2="209.96" stroke="#fff" stroke-width="0.8" />
<polygon points="99.77,223.00 105.34,227.31 105.34,206.68 99.77,202.38" fill="#c0b818" stroke="none" stroke-width="1" />
<polygon points="105.34,227.31 109.56,223.11 109.56,202.48 105.34,206.68" fill="#f0ec30" stroke="none" stroke-width="1" />
<polygon points="99.77,202.38 105.34,206.68 109.56,202.48 104.03,198.22" fill="#fafa90" stroke="none" stroke-width="1" />
<line x1="103.16" y1="203.23" x2="106.16" y2="201.63" stroke="#fff" stroke-width="0.8" />
<polygon points="116.78,223.22 122.28,227.56 122.28,202.69 116.78,198.35" fill="#e00000" stroke="none" stroke-width="1" />
<polygon points="122.28,227.56 126.47,223.18 126.47,198.31 122.28,202.69" fill="#ff1a1a" stroke="none" stroke-width="1" />
<polygon points="116.78,198.35 122.28,202.69 126.47,198.31 121.02,194.07" fill="#ff6060" stroke="none" stroke-width="1" />
<line x1="120.12" y1="199.13" x2="123.12" y2="197.53" stroke="#fff" stroke-width="0.8" />
<polygon points="62.65,232.03 67.64,235.13 67.64,228.68 62.65,225.58" fill="#0a0ab4" stroke="none" stroke-width="1" />
<polygon points="67.64,235.13 71.95,230.93 71.95,224.48 67.64,228.68" fill="#1414e8" stroke="none" stroke-width="1" />
<polygon points="62.65,225.58 67.64,228.68 71.95,224.48 67.00,221.32" fill="#3a3af8" stroke="none" stroke-width="1" />
<line x1="65.80" y1="225.83" x2="68.80" y2="224.23" stroke="#fff" stroke-width="0.8" />
<polygon points="78.20,230.24 83.12,233.73 83.12,221.26 78.20,217.77" fill="#7a7ed8" stroke="none" stroke-width="1" />
<polygon points="83.12,233.73 87.35,229.57 87.35,217.10 83.12,221.26" fill="#9ca0ec" stroke="none" stroke-width="1" />
<polygon points="78.20,217.77 83.12,221.26 87.35,217.10 82.47,213.60" fill="#b0b4f4" stroke="none" stroke-width="1" />
<line x1="81.27" y1="218.24" x2="84.27" y2="216.64" stroke="#fff" stroke-width="0.8" />
<polygon points="93.30,229.32 98.14,233.05 98.14,228.75 93.30,225.02" fill="#0a0ab4" stroke="none" stroke-width="1" />
<polygon points="98.14,233.05 102.02,229.18 102.02,224.88 98.14,228.75" fill="#1414e8" stroke="none" stroke-width="1" />
<polygon points="93.30,225.02 98.14,228.75 102.02,224.88 97.21,221.17" fill="#3a3af8" stroke="none" stroke-width="1" />
<line x1="96.16" y1="225.75" x2="99.16" y2="224.15" stroke="#fff" stroke-width="0.8" />
<polygon points="107.61,229.19 112.39,233.03 112.39,216.08 107.61,212.24" fill="#a8a8b8" stroke="none" stroke-width="1" />
<polygon points="112.39,233.03 115.94,229.33 115.94,212.38 112.39,216.08" fill="#d8d8e4" stroke="none" stroke-width="1" />
<polygon points="107.61,212.24 112.39,216.08 115.94,212.38 111.20,208.62" fill="#eeeef8" stroke="none" stroke-width="1" />
<line x1="110.27" y1="213.11" x2="113.27" y2="211.51" stroke="#fff" stroke-width="0.8" />
<polygon points="123.29,229.45 128.00,233.24 128.00,221.99 123.29,218.21" fill="#3a40d0" stroke="none" stroke-width="1" />
<polygon points="128.00,233.24 131.53,229.32 131.53,218.08 128.00,221.99" fill="#5a60f0" stroke="none" stroke-width="1" />
<polygon points="123.29,218.21 128.00,221.99 131.53,218.08 126.85,214.41" fill="#8a90fa" stroke="none" stroke-width="1" />
<line x1="125.91" y1="218.94" x2="128.91" y2="217.34" stroke="#fff" stroke-width="0.8" />
<polygon points="70.97,237.32 75.96,240.78 75.96,228.31 70.97,224.85" fill="#7a7ed8" stroke="none" stroke-width="1" />
<polygon points="75.96,240.78 80.19,236.62 80.19,224.15 75.96,228.31" fill="#9ca0ec" stroke="none" stroke-width="1" />
<polygon points="70.97,224.85 75.96,228.31 80.19,224.15 75.25,220.67" fill="#b0b4f4" stroke="none" stroke-width="1" />
<line x1="74.08" y1="225.30" x2="77.08" y2="223.70" stroke="#fff" stroke-width="0.8" />
<polygon points="86.40,236.15 91.31,239.93 91.31,235.63 86.40,231.85" fill="#0a0ab4" stroke="none" stroke-width="1" />
<polygon points="91.31,239.93 95.47,235.74 95.47,231.44 91.31,235.63" fill="#1414e8" stroke="none" stroke-width="1" />
<polygon points="86.40,231.85 91.31,235.63 95.47,231.44 90.60,227.69" fill="#3a3af8" stroke="none" stroke-width="1" />
<line x1="89.43" y1="232.45" x2="92.43" y2="230.85" stroke="#fff" stroke-width="0.8" />
<polygon points="101.37,235.61 106.22,239.57 106.22,235.27 101.37,231.31" fill="#0a0ab4" stroke="none" stroke-width="1" />
<polygon points="106.22,239.57 110.02,235.58 110.02,231.28 106.22,235.27" fill="#1414e8" stroke="none" stroke-width="1" />
<polygon points="101.37,231.31 106.22,235.27 110.02,231.28 105.22,227.40" fill="#3a3af8" stroke="none" stroke-width="1" />
<line x1="104.20" y1="232.10" x2="107.20" y2="230.50" stroke="#fff" stroke-width="0.8" />
<polygon points="114.74,235.63 119.52,239.61 119.52,224.63 114.74,220.65" fill="#7a7ed8" stroke="none" stroke-width="1" />
<polygon points="119.52,239.61 123.01,235.73 123.01,220.75 119.52,224.63" fill="#9ca0ec" stroke="none" stroke-width="1" />
<polygon points="114.74,220.65 119.52,224.63 123.01,220.75 118.27,216.89" fill="#b0b4f4" stroke="none" stroke-width="1" />
<line x1="117.37" y1="221.50" x2="120.37" y2="219.90" stroke="#fff" stroke-width="0.8" />
<polygon points="129.32,235.79 134.03,239.65 134.03,235.35 129.32,231.49" fill="#0a0ab4" stroke="none" stroke-width="1" />
<polygon points="134.03,239.65 137.49,235.48 137.49,231.18 134.03,235.35" fill="#1414e8" stroke="none" stroke-width="1" />
<polygon points="129.32,231.49 134.03,235.35 137.49,231.18 132.81,227.48" fill="#3a3af8" stroke="none" stroke-width="1" />
<line x1="131.90" y1="232.13" x2="134.90" y2="230.53" stroke="#fff" stroke-width="0.8" />
<polygon points="79.29,243.21 84.28,247.04 84.28,242.74 79.29,238.91" fill="#0a0ab4" stroke="none" stroke-width="1" />
<polygon points="84.28,247.04 88.44,242.84 88.44,238.54 84.28,242.74" fill="#1414e8" stroke="none" stroke-width="1" />
<polygon points="79.29,238.91 84.28,242.74 88.44,238.54 83.49,234.74" fill="#3a3af8" stroke="none" stroke-width="1" />
<line x1="82.37" y1="239.53" x2="85.37" y2="237.93" stroke="#fff" stroke-width="0.8" />
<polygon points="94.59,242.55 99.51,246.62 99.51,242.32 94.59,238.25" fill="#0a0ab4" stroke="none" stroke-width="1" />
<polygon points="99.51,246.62 103.59,242.32 103.59,238.02 99.51,242.32" fill="#1414e8" stroke="none" stroke-width="1" />
<polygon points="94.59,238.25 99.51,242.32 103.59,238.02 98.72,234.02" fill="#3a3af8" stroke="none" stroke-width="1" />
<line x1="97.59" y1="238.94" x2="100.59" y2="237.34" stroke="#fff" stroke-width="0.8" />
<polygon points="109.45,242.27 114.30,246.44 114.30,242.14 109.45,237.97" fill="#0a0ab4" stroke="none" stroke-width="1" />
<polygon points="114.30,246.44 118.03,242.28 118.03,237.98 114.30,242.14" fill="#1414e8" stroke="none" stroke-width="1" />
<polygon points="109.45,237.97 114.30,242.14 118.03,237.98 113.23,233.93" fill="#3a3af8" stroke="none" stroke-width="1" />
<line x1="112.24" y1="238.78" x2="115.24" y2="237.18" stroke="#fff" stroke-width="0.8" />
<polygon points="123.62,242.31 128.40,246.43 128.40,242.13 123.62,238.01" fill="#0a0ab4" stroke="none" stroke-width="1" />
<polygon points="128.40,246.43 131.82,242.31 131.82,238.01 128.40,242.13" fill="#1414e8" stroke="none" stroke-width="1" />
<polygon points="123.62,238.01 128.40,242.13 131.82,238.01 127.08,234.04" fill="#3a3af8" stroke="none" stroke-width="1" />
<line x1="126.22" y1="238.81" x2="129.22" y2="237.21" stroke="#fff" stroke-width="0.8" />
<polygon points="87.61,249.71 92.60,253.91 92.60,249.61 87.61,245.41" fill="#0a0ab4" stroke="none" stroke-width="1" />
<polygon points="92.60,253.91 96.69,249.61 96.69,245.31 92.60,249.61" fill="#1414e8" stroke="none" stroke-width="1" />
<polygon points="87.61,245.41 92.60,249.61 96.69,245.31 91.74,241.18" fill="#3a3af8" stroke="none" stroke-width="1" />
<line x1="90.65" y1="246.16" x2="93.65" y2="244.56" stroke="#fff" stroke-width="0.8" />
<polygon points="102.79,249.44 107.71,253.80 107.71,241.76 102.79,237.40" fill="#7a7ed8" stroke="none" stroke-width="1" />
<polygon points="107.71,253.80 111.72,249.32 111.72,237.28 107.71,241.76" fill="#9ca0ec" stroke="none" stroke-width="1" />
<polygon points="102.79,237.40 107.71,241.76 111.72,237.28 106.84,233.03" fill="#b0b4f4" stroke="none" stroke-width="1" />
<line x1="105.75" y1="238.14" x2="108.75" y2="236.54" stroke="#fff" stroke-width="0.8" />
<polygon points="117.53,249.30 122.37,253.69 122.37,249.39 117.53,245.00" fill="#0a0ab4" stroke="none" stroke-width="1" />
<polygon points="122.37,253.69 126.04,249.27 126.04,244.97 122.37,249.39" fill="#1414e8" stroke="none" stroke-width="1" />
<polygon points="117.53,245.00 122.37,249.39 126.04,244.97 121.23,240.74" fill="#3a3af8" stroke="none" stroke-width="1" />
<line x1="120.28" y1="245.79" x2="123.28" y2="244.19" stroke="#fff" stroke-width="0.8" />
<polygon points="95.93,256.82 100.92,261.38 100.92,256.22 95.93,251.66" fill="#0a0ab4" stroke="none" stroke-width="1" />
<polygon points="100.92,261.38 104.93,256.90 104.93,251.74 100.92,256.22" fill="#1414e8" stroke="none" stroke-width="1" />
<polygon points="95.93,251.66 100.92,256.22 104.93,251.74 99.99,247.30" fill="#3a3af8" stroke="none" stroke-width="1" />
<line x1="98.93" y1="252.50" x2="101.93" y2="250.90" stroke="#fff" stroke-width="0.8" />
<polygon points="110.98,256.81 115.90,261.46 115.90,257.16 110.98,252.51" fill="#0a0ab4" stroke="none" stroke-width="1" />
<polygon points="115.90,261.46 119.84,256.73 119.84,252.43 115.90,257.16" fill="#1414e8" stroke="none" stroke-width="1" />
<polygon points="110.98,252.51 115.90,257.16 119.84,252.43 114.97,247.94" fill="#3a3af8" stroke="none" stroke-width="1" />
<line x1="113.91" y1="253.27" x2="116.91" y2="251.67" stroke="#fff" stroke-width="0.8" />
<polygon points="104.25,264.54 109.24,269.46 109.24,265.16 104.25,260.24" fill="#0a0ab4" stroke="none" stroke-width="1" />
<polygon points="109.24,269.46 113.18,264.73 113.18,260.43 109.24,265.16" fill="#1414e8" stroke="none" stroke-width="1" />
<polygon points="104.25,260.24 109.24,265.16 113.18,260.43 108.23,255.67" fill="#3a3af8" stroke="none" stroke-width="1" />
<line x1="107.22" y1="261.14" x2="110.22" y2="259.54" stroke="#fff" stroke-width="0.8" />
<line x1="44.40" y1="220.90" x2="110.00" y2="268.60" stroke="#666" stroke-width="0.7" />
<line x1="110.00" y1="268.60" x2="140.30" y2="231.00" stroke="#666" stroke-width="0.7" />
<text x="46.00" y="228.00" font-size="6.5" fill="#222" text-anchor="end" transform="rotate(-47 46.00 228.00)" textLength="22" lengthAdjust="spacingAndGlyphs">TGS2600</text>
<text x="54.20" y="234.30" font-size="6.5" fill="#222" text-anchor="end" transform="rotate(-47 54.20 234.30)" textLength="22" lengthAdjust="spacingAndGlyphs">TGS2602</text>
<text x="62.40" y="239.70" font-size="6.5" fill="#222" text-anchor="end" transform="rotate(-47 62.40 239.70)" textLength="22" lengthAdjust="spacingAndGlyphs">TGS2610</text>
<text x="70.50" y="245.20" font-size="6.5" fill="#222" text-anchor="end" transform="rotate(-47 70.50 245.20)" textLength="22" lengthAdjust="spacingAndGlyphs">TGS2620</text>
<text x="78.70" y="248.00" font-size="6.5" fill="#222" text-anchor="end" transform="rotate(-47 78.70 248.00)">#31b</text>
<text x="87.80" y="258.00" font-size="6.5" fill="#222" text-anchor="end" transform="rotate(-47 87.80 258.00)">#33b</text>
<text x="96.00" y="263.40" font-size="6.5" fill="#222" text-anchor="end" transform="rotate(-47 96.00 263.40)">No.9</text>
<text x="106.00" y="269.70" font-size="6.5" fill="#222" text-anchor="end" transform="rotate(-47 106.00 269.70)">No.71</text>
<text x="43.50" y="262.00" font-size="7.2" fill="#222" transform="rotate(34.4 43.50 262.00)" textLength="30" lengthAdjust="spacingAndGlyphs">Gas Sensor</text>
<text x="139.00" y="239.80" font-size="6.5" fill="#222" transform="rotate(37.7 139.00 239.80)" textLength="19" lengthAdjust="spacingAndGlyphs">Acetoin</text>
<text x="133.30" y="247.20" font-size="6.5" fill="#222" transform="rotate(37.7 133.30 247.20)" textLength="20" lengthAdjust="spacingAndGlyphs">Nonanal</text>
<text x="127.50" y="254.60" font-size="6.5" fill="#222" transform="rotate(37.7 127.50 254.60)" textLength="19.5" lengthAdjust="spacingAndGlyphs">Decane</text>
<text x="121.70" y="262.00" font-size="6.5" fill="#222" transform="rotate(37.7 121.70 262.00)" textLength="13" lengthAdjust="spacingAndGlyphs">MIBK</text>
<text x="115.20" y="270.30" font-size="6.5" fill="#222" transform="rotate(37.7 115.20 270.30)" textLength="21" lengthAdjust="spacingAndGlyphs">Acetone</text>
<text x="143.00" y="280.00" font-size="7.2" fill="#222" transform="rotate(-51 143.00 280.00)" textLength="28" lengthAdjust="spacingAndGlyphs">Target Gas</text>
<text x="31.00" y="188.50" font-size="4.2" fill="#444" transform="rotate(81 31.00 188.50)" textLength="37" lengthAdjust="spacingAndGlyphs">Sum of Sensor Response</text>
<text x="36.50" y="210.00" font-size="3.5" fill="#666" transform="rotate(81 36.50 210.00)">1.0</text>
<rect x="164.00" y="164.00" width="6.60" height="63.00" fill="url(#cbar)" stroke="#222" stroke-width="0.5" />
<text x="172.60" y="167.50" font-size="5.5" fill="#333">6.5</text>
<text x="172.60" y="172.99" font-size="5.5" fill="#333">6.0</text>
<text x="172.60" y="178.48" font-size="5.5" fill="#333">5.5</text>
<text x="172.60" y="183.97" font-size="5.5" fill="#333">5.0</text>
<text x="172.60" y="189.46" font-size="5.5" fill="#333">4.5</text>
<text x="172.60" y="194.95" font-size="5.5" fill="#333">4.0</text>
<text x="172.60" y="200.44" font-size="5.5" fill="#333">3.5</text>
<text x="172.60" y="205.93" font-size="5.5" fill="#333">3.0</text>
<text x="172.60" y="211.42" font-size="5.5" fill="#333">2.5</text>
<text x="172.60" y="216.91" font-size="5.5" fill="#333">2.0</text>
<text x="172.60" y="222.40" font-size="5.5" fill="#333">1.5</text>
<text x="172.60" y="227.89" font-size="5.5" fill="#333">1.0</text>
<text x="188.00" y="165.00" font-size="14" fill="#111" stroke="#111" stroke-width="0.3" textLength="18" lengthAdjust="spacingAndGlyphs">(d)</text>
<text x="262.00" y="161.50" font-size="8.6" fill="#333" stroke="#333" stroke-width="0.05" text-anchor="middle" textLength="64" lengthAdjust="spacingAndGlyphs">Eigenvector PC1</text>
<line x1="220.30" y1="174.60" x2="220.30" y2="267.40" stroke="#e2e2e2" stroke-width="0.6" />
<line x1="238.50" y1="174.60" x2="238.50" y2="267.40" stroke="#e2e2e2" stroke-width="0.6" />
<line x1="274.90" y1="174.60" x2="274.90" y2="267.40" stroke="#e2e2e2" stroke-width="0.6" />
<line x1="293.10" y1="174.60" x2="293.10" y2="267.40" stroke="#e2e2e2" stroke-width="0.6" />
<line x1="311.30" y1="174.60" x2="311.30" y2="267.40" stroke="#e2e2e2" stroke-width="0.6" />
<line x1="202.40" y1="259.30" x2="320.00" y2="259.30" stroke="#e2e2e2" stroke-width="0.6" />
<line x1="202.40" y1="242.30" x2="320.00" y2="242.30" stroke="#e2e2e2" stroke-width="0.6" />
<line x1="202.40" y1="208.30" x2="320.00" y2="208.30" stroke="#e2e2e2" stroke-width="0.6" />
<line x1="202.40" y1="191.30" x2="320.00" y2="191.30" stroke="#e2e2e2" stroke-width="0.6" />
<line x1="256.70" y1="174.60" x2="256.70" y2="267.40" stroke="#777" stroke-width="1" />
<line x1="202.40" y1="225.30" x2="320.00" y2="225.30" stroke="#777" stroke-width="1" />
<line x1="202.40" y1="174.60" x2="320.00" y2="174.60" stroke="#555" stroke-width="1.1" />
<line x1="320.00" y1="174.60" x2="320.00" y2="267.40" stroke="#555" stroke-width="1.0" />
<line x1="202.40" y1="174.60" x2="202.40" y2="267.40" stroke="#444" stroke-width="1.1" stroke-dasharray="1.6,0.8" />
<line x1="202.40" y1="267.40" x2="320.00" y2="267.40" stroke="#444" stroke-width="1.1" stroke-dasharray="1.6,0.8" />
<line x1="202.10" y1="174.60" x2="202.10" y2="176.10" stroke="#555" stroke-width="0.7" />
<line x1="220.30" y1="174.60" x2="220.30" y2="176.10" stroke="#555" stroke-width="0.7" />
<line x1="238.50" y1="174.60" x2="238.50" y2="176.10" stroke="#555" stroke-width="0.7" />
<line x1="256.70" y1="174.60" x2="256.70" y2="176.10" stroke="#555" stroke-width="0.7" />
<line x1="274.90" y1="174.60" x2="274.90" y2="176.10" stroke="#555" stroke-width="0.7" />
<line x1="293.10" y1="174.60" x2="293.10" y2="176.10" stroke="#555" stroke-width="0.7" />
<line x1="311.30" y1="174.60" x2="311.30" y2="176.10" stroke="#555" stroke-width="0.7" />
<line x1="202.10" y1="267.40" x2="202.10" y2="269.40" stroke="#333" stroke-width="0.7" />
<text x="202.10" y="273.70" font-size="5.5" fill="#333" text-anchor="middle">-3</text>
<line x1="220.30" y1="267.40" x2="220.30" y2="269.40" stroke="#333" stroke-width="0.7" />
<text x="220.30" y="273.70" font-size="5.5" fill="#333" text-anchor="middle">-2</text>
<line x1="238.50" y1="267.40" x2="238.50" y2="269.40" stroke="#333" stroke-width="0.7" />
<text x="238.50" y="273.70" font-size="5.5" fill="#333" text-anchor="middle">-1</text>
<line x1="256.70" y1="267.40" x2="256.70" y2="269.40" stroke="#333" stroke-width="0.7" />
<text x="256.70" y="273.70" font-size="5.5" fill="#333" text-anchor="middle">0</text>
<line x1="274.90" y1="267.40" x2="274.90" y2="269.40" stroke="#333" stroke-width="0.7" />
<text x="274.90" y="273.70" font-size="5.5" fill="#333" text-anchor="middle">1</text>
<line x1="293.10" y1="267.40" x2="293.10" y2="269.40" stroke="#333" stroke-width="0.7" />
<text x="293.10" y="273.70" font-size="5.5" fill="#333" text-anchor="middle">2</text>
<line x1="311.30" y1="267.40" x2="311.30" y2="269.40" stroke="#333" stroke-width="0.7" />
<text x="311.30" y="273.70" font-size="5.5" fill="#333" text-anchor="middle">3</text>
<line x1="200.40" y1="174.30" x2="202.40" y2="174.30" stroke="#333" stroke-width="0.7" />
<text x="198.90" y="176.30" font-size="5.5" fill="#333" text-anchor="end">3</text>
<line x1="200.40" y1="191.30" x2="202.40" y2="191.30" stroke="#333" stroke-width="0.7" />
<text x="198.90" y="193.30" font-size="5.5" fill="#333" text-anchor="end">2</text>
<line x1="200.40" y1="208.30" x2="202.40" y2="208.30" stroke="#333" stroke-width="0.7" />
<text x="198.90" y="210.30" font-size="5.5" fill="#333" text-anchor="end">1</text>
<line x1="200.40" y1="225.30" x2="202.40" y2="225.30" stroke="#333" stroke-width="0.7" />
<text x="198.90" y="227.30" font-size="5.5" fill="#333" text-anchor="end">0</text>
<line x1="200.40" y1="242.30" x2="202.40" y2="242.30" stroke="#333" stroke-width="0.7" />
<text x="198.90" y="244.30" font-size="5.5" fill="#333" text-anchor="end">-1</text>
<line x1="200.40" y1="259.30" x2="202.40" y2="259.30" stroke="#333" stroke-width="0.7" />
<text x="198.90" y="261.30" font-size="5.5" fill="#333" text-anchor="end">-2</text>
<line x1="320.00" y1="190.30" x2="322.00" y2="190.30" stroke="#333" stroke-width="0.7" />
<text x="323.50" y="192.30" font-size="5.5" fill="#333">0.5</text>
<line x1="320.00" y1="225.30" x2="322.00" y2="225.30" stroke="#333" stroke-width="0.7" />
<text x="323.50" y="227.30" font-size="5.5" fill="#333">0.0</text>
<line x1="320.00" y1="260.30" x2="322.00" y2="260.30" stroke="#333" stroke-width="0.7" />
<text x="323.50" y="262.30" font-size="5.5" fill="#333">-0.5</text>
<line x1="257.00" y1="172.60" x2="257.00" y2="174.60" stroke="#333" stroke-width="0.7" />
<text x="257.00" y="171.10" font-size="5.5" fill="#333" text-anchor="middle">0.0</text>
<line x1="309.00" y1="172.60" x2="309.00" y2="174.60" stroke="#333" stroke-width="0.7" />
<text x="309.00" y="171.10" font-size="5.5" fill="#333" text-anchor="middle">0.5</text>
<text x="192.30" y="219.00" font-size="8.7" fill="#333" stroke="#333" stroke-width="0.05" text-anchor="middle" transform="rotate(-90 192.30 219.00)" textLength="48" lengthAdjust="spacingAndGlyphs">PC2 (30.2%)</text>
<text x="259.50" y="285.20" font-size="8.7" fill="#333" stroke="#333" stroke-width="0.05" text-anchor="middle" textLength="50" lengthAdjust="spacingAndGlyphs">PC1 (52.9%)</text>
<text x="342.50" y="221.00" font-size="8.6" fill="#333" stroke="#333" stroke-width="0.05" text-anchor="middle" transform="rotate(-90 342.50 221.00)" textLength="66" lengthAdjust="spacingAndGlyphs">Eigenvector PC2</text>
<line x1="256.70" y1="225.30" x2="219.49" y2="204.65" stroke="#ff1a1a" stroke-width="1.0" />
<polygon points="217.60,203.60 221.67,203.69 219.83,207.01" fill="#ff1a1a" stroke="none" stroke-width="1" />
<text x="214.50" y="204.50" font-size="6" fill="#ff1a1a" stroke="#ff1a1a" stroke-width="0.25" font-weight="bold">2600</text>
<line x1="256.70" y1="225.30" x2="231.92" y2="193.11" stroke="#ff8c1a" stroke-width="1.0" />
<polygon points="230.60,191.40 234.30,193.09 231.29,195.41" fill="#ff8c1a" stroke="none" stroke-width="1" />
<text x="231.00" y="192.00" font-size="6" fill="#ff8c1a" stroke="#ff8c1a" stroke-width="0.25" font-weight="bold">2620</text>
<line x1="256.70" y1="225.30" x2="267.33" y2="192.55" stroke="#22b422" stroke-width="1.0" />
<polygon points="268.00,190.50 268.70,194.51 265.08,193.34" fill="#22b422" stroke="none" stroke-width="1" />
<text x="269.00" y="189.50" font-size="6" fill="#9a9418" stroke="#9a9418" stroke-width="0.25" font-weight="bold">2610</text>
<line x1="256.70" y1="225.30" x2="275.82" y2="195.81" stroke="#18c8f0" stroke-width="1.0" />
<polygon points="277.00,194.00 276.64,198.05 273.45,195.99" fill="#18c8f0" stroke="none" stroke-width="1" />
<text x="279.00" y="195.00" font-size="6" fill="#18c8f0" stroke="#18c8f0" stroke-width="0.25" font-weight="bold">No.9</text>
<line x1="256.70" y1="225.30" x2="291.23" y2="201.24" stroke="#1a30e8" stroke-width="1.0" />
<polygon points="293.00,200.00 291.13,203.62 288.96,200.50" fill="#1a30e8" stroke="none" stroke-width="1" />
<text x="296.00" y="200.50" font-size="6" fill="#1a30e8" stroke="#1a30e8" stroke-width="0.25" font-weight="bold">2602</text>
<line x1="256.70" y1="225.30" x2="301.85" y2="228.45" stroke="#ff28e0" stroke-width="1.0" />
<polygon points="304.00,228.60 300.28,230.24 300.54,226.45" fill="#ff28e0" stroke="none" stroke-width="1" />
<text x="306.00" y="230.50" font-size="6" fill="#ff28e0" stroke="#ff28e0" stroke-width="0.25" font-weight="bold">#31b</text>
<line x1="256.70" y1="225.30" x2="300.89" y2="234.56" stroke="#ff28e0" stroke-width="1.0" />
<polygon points="303.00,235.00 299.09,236.12 299.87,232.40" fill="#ff28e0" stroke="none" stroke-width="1" />
<text x="305.00" y="237.00" font-size="6" fill="#ff28e0" stroke="#ff28e0" stroke-width="0.25" font-weight="bold">#33b</text>
<line x1="256.70" y1="225.30" x2="220.10" y2="233.91" stroke="#30e030" stroke-width="1.0" />
<polygon points="218.00,234.40 221.07,231.73 221.94,235.43" fill="#30e030" stroke="none" stroke-width="1" />
<text x="216.00" y="231.50" font-size="6" fill="#30e030" stroke="#30e030" stroke-width="0.25" font-weight="bold">No.71</text>
<polygon points="232.60,208.10 234.90,210.40 232.60,212.70 230.30,210.40" fill="#1a30e8" stroke="none" stroke-width="1" />
<polygon points="236.60,214.30 238.90,216.60 236.60,218.90 234.30,216.60" fill="#1a30e8" stroke="none" stroke-width="1" />
<polygon points="238.00,218.70 240.30,221.00 238.00,223.30 235.70,221.00" fill="#1a30e8" stroke="none" stroke-width="1" />
<text x="233.00" y="227.00" font-size="6.5" fill="#1a30e8" stroke="#1a30e8" stroke-width="0.25" font-weight="bold" textLength="12" lengthAdjust="spacingAndGlyphs">MIBK</text>
<polygon points="284.00,180.70 286.30,183.00 284.00,185.30 281.70,183.00" fill="#ff1a1a" stroke="none" stroke-width="1" />
<polygon points="287.00,177.70 289.30,180.00 287.00,182.30 284.70,180.00" fill="#ff1a1a" stroke="none" stroke-width="1" />
<polygon points="289.00,177.30 291.30,179.60 289.00,181.90 286.70,179.60" fill="#ff1a1a" stroke="none" stroke-width="1" />
<text x="280.00" y="191.50" font-size="6.5" fill="#ff1a1a" stroke="#ff1a1a" stroke-width="0.25" font-weight="bold" textLength="22" lengthAdjust="spacingAndGlyphs">Nonanal</text>
<polygon points="308.00,250.70 310.30,253.00 308.00,255.30 305.70,253.00" fill="#ff28e0" stroke="none" stroke-width="1" />
<polygon points="311.00,255.70 313.30,258.00 311.00,260.30 308.70,258.00" fill="#ff28e0" stroke="none" stroke-width="1" />
<polygon points="312.00,254.70 314.30,257.00 312.00,259.30 309.70,257.00" fill="#ff28e0" stroke="none" stroke-width="1" />
<polygon points="310.00,257.70 312.30,260.00 310.00,262.30 307.70,260.00" fill="#ff28e0" stroke="none" stroke-width="1" />
<text x="302.00" y="265.50" font-size="6.5" fill="#ff28e0" stroke="#ff28e0" stroke-width="0.25" font-weight="bold" textLength="18" lengthAdjust="spacingAndGlyphs">Acetoin</text>
<polygon points="207.40,222.10 209.70,224.40 207.40,226.70 205.10,224.40" fill="#8a7a10" stroke="none" stroke-width="1" />
<polygon points="214.40,238.70 216.70,241.00 214.40,243.30 212.10,241.00" fill="#8a7a10" stroke="none" stroke-width="1" />
<polygon points="218.60,238.70 220.90,241.00 218.60,243.30 216.30,241.00" fill="#8a7a10" stroke="none" stroke-width="1" />
<text x="205.00" y="249.00" font-size="6.5" fill="#8a7a10" stroke="#8a7a10" stroke-width="0.25" font-weight="bold" textLength="20" lengthAdjust="spacingAndGlyphs">Decane</text>
<polygon points="233.00,228.30 235.30,230.60 233.00,232.90 230.70,230.60" fill="#18c8f0" stroke="none" stroke-width="1" />
<polygon points="238.60,232.70 240.90,235.00 238.60,237.30 236.30,235.00" fill="#18c8f0" stroke="none" stroke-width="1" />
<polygon points="238.60,237.10 240.90,239.40 238.60,241.70 236.30,239.40" fill="#18c8f0" stroke="none" stroke-width="1" />
<text x="231.00" y="247.50" font-size="6.5" fill="#18c8f0" stroke="#18c8f0" stroke-width="0.25" font-weight="bold" textLength="21" lengthAdjust="spacingAndGlyphs">Acetone</text>
<text x="2.00" y="301.00" font-size="14" fill="#111" stroke="#111" stroke-width="0.3" textLength="16" lengthAdjust="spacingAndGlyphs">(e)</text>
<text x="102.30" y="297.50" font-size="8.6" fill="#333" stroke="#333" stroke-width="0.05" text-anchor="middle" textLength="64.5" lengthAdjust="spacingAndGlyphs">Eigenvector PC1</text>
<line x1="59.70" y1="310.50" x2="59.70" y2="404.20" stroke="#e2e2e2" stroke-width="0.6" />
<line x1="79.60" y1="310.50" x2="79.60" y2="404.20" stroke="#e2e2e2" stroke-width="0.6" />
<line x1="119.40" y1="310.50" x2="119.40" y2="404.20" stroke="#e2e2e2" stroke-width="0.6" />
<line x1="139.30" y1="310.50" x2="139.30" y2="404.20" stroke="#e2e2e2" stroke-width="0.6" />
<line x1="39.80" y1="388.80" x2="159.00" y2="388.80" stroke="#e2e2e2" stroke-width="0.6" />
<line x1="39.80" y1="373.20" x2="159.00" y2="373.20" stroke="#e2e2e2" stroke-width="0.6" />
<line x1="39.80" y1="342.00" x2="159.00" y2="342.00" stroke="#e2e2e2" stroke-width="0.6" />
<line x1="39.80" y1="326.40" x2="159.00" y2="326.40" stroke="#e2e2e2" stroke-width="0.6" />
<line x1="99.50" y1="310.50" x2="99.50" y2="404.20" stroke="#777" stroke-width="1" />
<line x1="39.80" y1="357.60" x2="159.00" y2="357.60" stroke="#777" stroke-width="1" />
<line x1="39.80" y1="310.50" x2="159.00" y2="310.50" stroke="#555" stroke-width="1.1" />
<line x1="159.00" y1="310.50" x2="159.00" y2="404.20" stroke="#555" stroke-width="1.0" />
<line x1="39.80" y1="310.50" x2="39.80" y2="404.20" stroke="#444" stroke-width="1.1" stroke-dasharray="1.6,0.8" />
<line x1="39.80" y1="404.20" x2="159.00" y2="404.20" stroke="#444" stroke-width="1.1" stroke-dasharray="1.6,0.8" />
<line x1="39.80" y1="310.50" x2="39.80" y2="312.00" stroke="#555" stroke-width="0.7" />
<line x1="59.70" y1="310.50" x2="59.70" y2="312.00" stroke="#555" stroke-width="0.7" />
<line x1="79.60" y1="310.50" x2="79.60" y2="312.00" stroke="#555" stroke-width="0.7" />
<line x1="99.50" y1="310.50" x2="99.50" y2="312.00" stroke="#555" stroke-width="0.7" />
<line x1="119.40" y1="310.50" x2="119.40" y2="312.00" stroke="#555" stroke-width="0.7" />
<line x1="139.30" y1="310.50" x2="139.30" y2="312.00" stroke="#555" stroke-width="0.7" />
<line x1="159.20" y1="310.50" x2="159.20" y2="312.00" stroke="#555" stroke-width="0.7" />
<line x1="39.80" y1="404.20" x2="39.80" y2="406.20" stroke="#333" stroke-width="0.7" />
<text x="39.80" y="410.50" font-size="5.5" fill="#333" text-anchor="middle">-3</text>
<line x1="59.70" y1="404.20" x2="59.70" y2="406.20" stroke="#333" stroke-width="0.7" />
<text x="59.70" y="410.50" font-size="5.5" fill="#333" text-anchor="middle">-2</text>
<line x1="79.60" y1="404.20" x2="79.60" y2="406.20" stroke="#333" stroke-width="0.7" />
<text x="79.60" y="410.50" font-size="5.5" fill="#333" text-anchor="middle">-1</text>
<line x1="99.50" y1="404.20" x2="99.50" y2="406.20" stroke="#333" stroke-width="0.7" />
<text x="99.50" y="410.50" font-size="5.5" fill="#333" text-anchor="middle">0</text>
<line x1="119.40" y1="404.20" x2="119.40" y2="406.20" stroke="#333" stroke-width="0.7" />
<text x="119.40" y="410.50" font-size="5.5" fill="#333" text-anchor="middle">1</text>
<line x1="139.30" y1="404.20" x2="139.30" y2="406.20" stroke="#333" stroke-width="0.7" />
<text x="139.30" y="410.50" font-size="5.5" fill="#333" text-anchor="middle">2</text>
<line x1="159.20" y1="404.20" x2="159.20" y2="406.20" stroke="#333" stroke-width="0.7" />
<text x="159.20" y="410.50" font-size="5.5" fill="#333" text-anchor="middle">3</text>
<line x1="37.80" y1="310.80" x2="39.80" y2="310.80" stroke="#333" stroke-width="0.7" />
<text x="36.30" y="312.80" font-size="5.5" fill="#333" text-anchor="end">3</text>
<line x1="37.80" y1="326.40" x2="39.80" y2="326.40" stroke="#333" stroke-width="0.7" />
<text x="36.30" y="328.40" font-size="5.5" fill="#333" text-anchor="end">2</text>
<line x1="37.80" y1="342.00" x2="39.80" y2="342.00" stroke="#333" stroke-width="0.7" />
<text x="36.30" y="344.00" font-size="5.5" fill="#333" text-anchor="end">1</text>
<line x1="37.80" y1="357.60" x2="39.80" y2="357.60" stroke="#333" stroke-width="0.7" />
<text x="36.30" y="359.60" font-size="5.5" fill="#333" text-anchor="end">0</text>
<line x1="37.80" y1="373.20" x2="39.80" y2="373.20" stroke="#333" stroke-width="0.7" />
<text x="36.30" y="375.20" font-size="5.5" fill="#333" text-anchor="end">-1</text>
<line x1="37.80" y1="388.80" x2="39.80" y2="388.80" stroke="#333" stroke-width="0.7" />
<text x="36.30" y="390.80" font-size="5.5" fill="#333" text-anchor="end">-2</text>
<line x1="37.80" y1="404.40" x2="39.80" y2="404.40" stroke="#333" stroke-width="0.7" />
<text x="36.30" y="406.40" font-size="5.5" fill="#333" text-anchor="end">-3</text>
<line x1="159.00" y1="318.60" x2="161.00" y2="318.60" stroke="#333" stroke-width="0.7" />
<text x="162.50" y="320.60" font-size="5.5" fill="#333">0.5</text>
<line x1="159.00" y1="357.30" x2="161.00" y2="357.30" stroke="#333" stroke-width="0.7" />
<text x="162.50" y="359.30" font-size="5.5" fill="#333">0.0</text>
<line x1="159.00" y1="395.50" x2="161.00" y2="395.50" stroke="#333" stroke-width="0.7" />
<text x="162.50" y="397.50" font-size="5.5" fill="#333">-0.5</text>
<line x1="47.00" y1="308.50" x2="47.00" y2="310.50" stroke="#333" stroke-width="0.7" />
<text x="47.00" y="307.00" font-size="5.5" fill="#333" text-anchor="middle">-0.5</text>
<line x1="99.50" y1="308.50" x2="99.50" y2="310.50" stroke="#333" stroke-width="0.7" />
<text x="99.50" y="307.00" font-size="5.5" fill="#333" text-anchor="middle">0.0</text>
<line x1="151.80" y1="308.50" x2="151.80" y2="310.50" stroke="#333" stroke-width="0.7" />
<text x="151.80" y="307.00" font-size="5.5" fill="#333" text-anchor="middle">0.5</text>
<text x="27.60" y="351.50" font-size="8.7" fill="#333" stroke="#333" stroke-width="0.05" text-anchor="middle" transform="rotate(-90 27.60 351.50)" textLength="51" lengthAdjust="spacingAndGlyphs">PC2 (31.8%)</text>
<text x="97.50" y="421.90" font-size="8.7" fill="#333" stroke="#333" stroke-width="0.05" text-anchor="middle" textLength="50" lengthAdjust="spacingAndGlyphs">PC1 (48.5%)</text>
<text x="179.50" y="354.50" font-size="8.6" fill="#333" stroke="#333" stroke-width="0.05" text-anchor="middle" transform="rotate(-90 179.50 354.50)" textLength="67" lengthAdjust="spacingAndGlyphs">Eigenvector PC2</text>
<line x1="99.50" y1="357.60" x2="72.24" y2="323.09" stroke="#ff1a1a" stroke-width="1.0" />
<polygon points="70.90,321.40 74.62,323.05 71.64,325.40" fill="#ff1a1a" stroke="none" stroke-width="1" />
<text x="64.00" y="318.00" font-size="6" fill="#ff1a1a" stroke="#ff1a1a" stroke-width="0.25" font-weight="bold">2600</text>
<line x1="99.50" y1="357.60" x2="91.41" y2="315.32" stroke="#ff8c1a" stroke-width="1.0" />
<polygon points="91.00,313.20 93.54,316.38 89.81,317.09" fill="#ff8c1a" stroke="none" stroke-width="1" />
<text x="85.00" y="315.00" font-size="6" fill="#ff8c1a" stroke="#ff8c1a" stroke-width="0.25" font-weight="bold">2620</text>
<line x1="99.50" y1="357.60" x2="114.20" y2="321.00" stroke="#22b422" stroke-width="1.0" />
<polygon points="115.00,319.00 115.42,323.05 111.90,321.63" fill="#22b422" stroke="none" stroke-width="1" />
<text x="114.00" y="318.50" font-size="6" fill="#9a9418" stroke="#9a9418" stroke-width="0.25" font-weight="bold">2610</text>
<line x1="99.50" y1="357.60" x2="127.29" y2="336.31" stroke="#18c8f0" stroke-width="1.0" />
<polygon points="129.00,335.00 127.30,338.70 124.99,335.68" fill="#18c8f0" stroke="none" stroke-width="1" />
<text x="127.00" y="335.50" font-size="6" fill="#18c8f0" stroke="#18c8f0" stroke-width="0.25" font-weight="bold">No.9</text>
<line x1="99.50" y1="357.60" x2="143.02" y2="338.85" stroke="#1a30e8" stroke-width="1.0" />
<polygon points="145.00,338.00 142.45,341.17 140.94,337.68" fill="#1a30e8" stroke="none" stroke-width="1" />
<text x="146.00" y="341.00" font-size="6" fill="#1a30e8" stroke="#1a30e8" stroke-width="0.25" font-weight="bold">2602</text>
<line x1="99.50" y1="357.60" x2="143.85" y2="362.75" stroke="#ff28e0" stroke-width="1.0" />
<polygon points="146.00,363.00 142.20,364.47 142.64,360.70" fill="#ff28e0" stroke="none" stroke-width="1" />
<text x="146.00" y="365.50" font-size="6" fill="#ff28e0" stroke="#ff28e0" stroke-width="0.25" font-weight="bold">#31b</text>
<line x1="99.50" y1="357.60" x2="141.90" y2="367.51" stroke="#ff28e0" stroke-width="1.0" />
<polygon points="144.00,368.00 140.06,369.03 140.93,365.33" fill="#ff28e0" stroke="none" stroke-width="1" />
<text x="146.00" y="371.00" font-size="6" fill="#ff28e0" stroke="#ff28e0" stroke-width="0.25" font-weight="bold">#33b</text>
<line x1="99.50" y1="357.60" x2="56.16" y2="358.46" stroke="#30e030" stroke-width="1.6" />
<polygon points="54.00,358.50 57.56,356.53 57.64,360.33" fill="#30e030" stroke="none" stroke-width="1" />
<text x="58.00" y="364.00" font-size="6" fill="#30e030" stroke="#30e030" stroke-width="0.25" font-weight="bold">No.71</text>
<polygon points="78.20,327.20 80.50,329.50 78.20,331.80 75.90,329.50" fill="#1a30e8" stroke="none" stroke-width="1" />
<polygon points="79.00,334.50 81.30,336.80 79.00,339.10 76.70,336.80" fill="#1a30e8" stroke="none" stroke-width="1" />
<polygon points="80.00,337.20 82.30,339.50 80.00,341.80 77.70,339.50" fill="#1a30e8" stroke="none" stroke-width="1" />
<polygon points="78.50,337.70 80.80,340.00 78.50,342.30 76.20,340.00" fill="#1a30e8" stroke="none" stroke-width="1" />
<text x="80.00" y="331.00" font-size="6.5" fill="#1a30e8" stroke="#1a30e8" stroke-width="0.25" font-weight="bold" textLength="15" lengthAdjust="spacingAndGlyphs">MIBK</text>
<polygon points="47.60,334.20 49.90,336.50 47.60,338.80 45.30,336.50" fill="#8a7a10" stroke="none" stroke-width="1" />
<polygon points="47.60,347.20 49.90,349.50 47.60,351.80 45.30,349.50" fill="#8a7a10" stroke="none" stroke-width="1" />
<polygon points="52.70,348.20 55.00,350.50 52.70,352.80 50.40,350.50" fill="#8a7a10" stroke="none" stroke-width="1" />
<polygon points="50.00,355.20 52.30,357.50 50.00,359.80 47.70,357.50" fill="#8a7a10" stroke="none" stroke-width="1" />
<polygon points="50.40,358.70 52.70,361.00 50.40,363.30 48.10,361.00" fill="#8a7a10" stroke="none" stroke-width="1" />
<polygon points="50.00,363.20 52.30,365.50 50.00,367.80 47.70,365.50" fill="#8a7a10" stroke="none" stroke-width="1" />
<text x="42.00" y="333.50" font-size="6.5" fill="#8a7a10" stroke="#8a7a10" stroke-width="0.25" font-weight="bold" textLength="19" lengthAdjust="spacingAndGlyphs">Decane</text>
<polygon points="72.70,347.20 75.00,349.50 72.70,351.80 70.40,349.50" fill="#18c8f0" stroke="none" stroke-width="1" />
<polygon points="74.50,352.70 76.80,355.00 74.50,357.30 72.20,355.00" fill="#18c8f0" stroke="none" stroke-width="1" />
<polygon points="76.00,352.20 78.30,354.50 76.00,356.80 73.70,354.50" fill="#18c8f0" stroke="none" stroke-width="1" />
<text x="64.00" y="348.00" font-size="6.5" fill="#18c8f0" stroke="#18c8f0" stroke-width="0.25" font-weight="bold" textLength="20" lengthAdjust="spacingAndGlyphs">Acetone</text>
<polygon points="141.00,313.70 143.30,316.00 141.00,318.30 138.70,316.00" fill="#ff1a1a" stroke="none" stroke-width="1" />
<polygon points="143.50,311.30 145.80,313.60 143.50,315.90 141.20,313.60" fill="#ff1a1a" stroke="none" stroke-width="1" />
<polygon points="146.00,309.70 148.30,312.00 146.00,314.30 143.70,312.00" fill="#ff1a1a" stroke="none" stroke-width="1" />
<polygon points="143.00,327.70 145.30,330.00 143.00,332.30 140.70,330.00" fill="#ff1a1a" stroke="none" stroke-width="1" />
<polygon points="141.00,331.70 143.30,334.00 141.00,336.30 138.70,334.00" fill="#ff1a1a" stroke="none" stroke-width="1" />
<polygon points="146.00,331.70 148.30,334.00 146.00,336.30 143.70,334.00" fill="#ff1a1a" stroke="none" stroke-width="1" />
<text x="137.00" y="323.00" font-size="6.5" fill="#ff1a1a" stroke="#ff1a1a" stroke-width="0.25" font-weight="bold" textLength="21" lengthAdjust="spacingAndGlyphs">Nonanal</text>
<polygon points="147.00,373.70 149.30,376.00 147.00,378.30 144.70,376.00" fill="#ff28e0" stroke="none" stroke-width="1" />
<polygon points="149.00,378.70 151.30,381.00 149.00,383.30 146.70,381.00" fill="#ff28e0" stroke="none" stroke-width="1" />
<polygon points="147.00,382.70 149.30,385.00 147.00,387.30 144.70,385.00" fill="#ff28e0" stroke="none" stroke-width="1" />
<polygon points="146.00,381.70 148.30,384.00 146.00,386.30 143.70,384.00" fill="#ff28e0" stroke="none" stroke-width="1" />
<polygon points="146.00,396.70 148.30,399.00 146.00,401.30 143.70,399.00" fill="#ff28e0" stroke="none" stroke-width="1" />
<polygon points="147.00,394.70 149.30,397.00 147.00,399.30 144.70,397.00" fill="#ff28e0" stroke="none" stroke-width="1" />
<polygon points="148.00,393.70 150.30,396.00 148.00,398.30 145.70,396.00" fill="#ff28e0" stroke="none" stroke-width="1" />
<text x="125.00" y="377.50" font-size="6.5" fill="#ff28e0" stroke="#ff28e0" stroke-width="0.25" font-weight="bold" textLength="20" lengthAdjust="spacingAndGlyphs">Acetoin</text>
<polygon points="80.50,368.20 82.80,370.50 80.50,372.80 78.20,370.50" fill="#1a30e8" stroke="none" stroke-width="1" />
<polygon points="84.00,364.70 86.30,367.00 84.00,369.30 81.70,367.00" fill="#1a30e8" stroke="none" stroke-width="1" />
<polygon points="84.50,366.20 86.80,368.50 84.50,370.80 82.20,368.50" fill="#1a30e8" stroke="none" stroke-width="1" />
<polygon points="78.00,381.70 80.30,384.00 78.00,386.30 75.70,384.00" fill="#18c8f0" stroke="none" stroke-width="1" />
<polygon points="77.00,385.70 79.30,388.00 77.00,390.30 74.70,388.00" fill="#18c8f0" stroke="none" stroke-width="1" />
<polygon points="79.00,387.70 81.30,390.00 79.00,392.30 76.70,390.00" fill="#18c8f0" stroke="none" stroke-width="1" />
<text x="148.60" y="313.20" font-size="3" fill="#e8a0e8" textLength="3.5" lengthAdjust="spacingAndGlyphs">iii</text>
<text x="148.60" y="335.20" font-size="3" fill="#e8a0e8" textLength="3.5" lengthAdjust="spacingAndGlyphs">iii</text>
<text x="149.60" y="377.20" font-size="3" fill="#e8a0e8" textLength="3.5" lengthAdjust="spacingAndGlyphs">iii</text>
<text x="151.60" y="382.20" font-size="3" fill="#e8a0e8" textLength="3.5" lengthAdjust="spacingAndGlyphs">iii</text>
<text x="150.60" y="397.20" font-size="3" fill="#e8a0e8" textLength="3.5" lengthAdjust="spacingAndGlyphs">iii</text>
<text x="148.60" y="313.20" font-size="3" fill="#ff9a9a" textLength="3.5" lengthAdjust="spacingAndGlyphs">iii</text>
<text x="148.60" y="335.20" font-size="3" fill="#ff9a9a" textLength="3.5" lengthAdjust="spacingAndGlyphs">iii</text>
<text x="82.60" y="340.70" font-size="3" fill="#9aa0ff" textLength="3.5" lengthAdjust="spacingAndGlyphs">iii</text>
<text x="87.10" y="369.70" font-size="3" fill="#9aa0ff" textLength="3.5" lengthAdjust="spacingAndGlyphs">iii</text>
<text x="55.30" y="351.70" font-size="3" fill="#c8c080" textLength="3.5" lengthAdjust="spacingAndGlyphs">iii</text>
<text x="53.00" y="362.20" font-size="3" fill="#c8c080" textLength="3.5" lengthAdjust="spacingAndGlyphs">iii</text>
<text x="52.60" y="366.70" font-size="3" fill="#c8c080" textLength="3.5" lengthAdjust="spacingAndGlyphs">iii</text>
<text x="78.60" y="355.70" font-size="3" fill="#90e0f8" textLength="3.5" lengthAdjust="spacingAndGlyphs">iii</text>
<text x="81.60" y="391.20" font-size="3" fill="#90e0f8" textLength="3.5" lengthAdjust="spacingAndGlyphs">iii</text>
<text x="80.60" y="385.20" font-size="3" fill="#90e0f8" textLength="3.5" lengthAdjust="spacingAndGlyphs">iii</text>
<text x="191.00" y="301.00" font-size="14" fill="#111" stroke="#111" stroke-width="0.3" textLength="13.5" lengthAdjust="spacingAndGlyphs">(f)</text>
<text x="262.00" y="298.50" font-size="8.6" fill="#333" stroke="#333" stroke-width="0.05" text-anchor="middle" textLength="65" lengthAdjust="spacingAndGlyphs">Eigenvector PC1</text>
<line x1="219.40" y1="310.50" x2="219.40" y2="404.50" stroke="#e2e2e2" stroke-width="0.6" />
<line x1="237.90" y1="310.50" x2="237.90" y2="404.50" stroke="#e2e2e2" stroke-width="0.6" />
<line x1="274.90" y1="310.50" x2="274.90" y2="404.50" stroke="#e2e2e2" stroke-width="0.6" />
<line x1="293.40" y1="310.50" x2="293.40" y2="404.50" stroke="#e2e2e2" stroke-width="0.6" />
<line x1="311.90" y1="310.50" x2="311.90" y2="404.50" stroke="#e2e2e2" stroke-width="0.6" />
<line x1="200.70" y1="388.90" x2="321.20" y2="388.90" stroke="#e2e2e2" stroke-width="0.6" />
<line x1="200.70" y1="326.30" x2="321.20" y2="326.30" stroke="#e2e2e2" stroke-width="0.6" />
<line x1="256.40" y1="310.50" x2="256.40" y2="404.50" stroke="#777" stroke-width="1" />
<line x1="200.70" y1="357.60" x2="321.20" y2="357.60" stroke="#777" stroke-width="1" />
<line x1="200.70" y1="310.50" x2="321.20" y2="310.50" stroke="#555" stroke-width="1.1" />
<line x1="321.20" y1="310.50" x2="321.20" y2="404.50" stroke="#555" stroke-width="1.0" />
<line x1="200.70" y1="310.50" x2="200.70" y2="404.50" stroke="#444" stroke-width="1.1" stroke-dasharray="1.6,0.8" />
<line x1="200.70" y1="404.50" x2="321.20" y2="404.50" stroke="#444" stroke-width="1.1" stroke-dasharray="1.6,0.8" />
<line x1="200.90" y1="310.50" x2="200.90" y2="312.00" stroke="#555" stroke-width="0.7" />
<line x1="219.40" y1="310.50" x2="219.40" y2="312.00" stroke="#555" stroke-width="0.7" />
<line x1="237.90" y1="310.50" x2="237.90" y2="312.00" stroke="#555" stroke-width="0.7" />
<line x1="256.40" y1="310.50" x2="256.40" y2="312.00" stroke="#555" stroke-width="0.7" />
<line x1="274.90" y1="310.50" x2="274.90" y2="312.00" stroke="#555" stroke-width="0.7" />
<line x1="293.40" y1="310.50" x2="293.40" y2="312.00" stroke="#555" stroke-width="0.7" />
<line x1="311.90" y1="310.50" x2="311.90" y2="312.00" stroke="#555" stroke-width="0.7" />
<line x1="200.90" y1="404.50" x2="200.90" y2="406.50" stroke="#333" stroke-width="0.7" />
<text x="200.90" y="410.80" font-size="5.5" fill="#333" text-anchor="middle">-3</text>
<line x1="219.40" y1="404.50" x2="219.40" y2="406.50" stroke="#333" stroke-width="0.7" />
<text x="219.40" y="410.80" font-size="5.5" fill="#333" text-anchor="middle">-2</text>
<line x1="237.90" y1="404.50" x2="237.90" y2="406.50" stroke="#333" stroke-width="0.7" />
<text x="237.90" y="410.80" font-size="5.5" fill="#333" text-anchor="middle">-1</text>
<line x1="256.40" y1="404.50" x2="256.40" y2="406.50" stroke="#333" stroke-width="0.7" />
<text x="256.40" y="410.80" font-size="5.5" fill="#333" text-anchor="middle">0</text>
<line x1="274.90" y1="404.50" x2="274.90" y2="406.50" stroke="#333" stroke-width="0.7" />
<text x="274.90" y="410.80" font-size="5.5" fill="#333" text-anchor="middle">1</text>
<line x1="293.40" y1="404.50" x2="293.40" y2="406.50" stroke="#333" stroke-width="0.7" />
<text x="293.40" y="410.80" font-size="5.5" fill="#333" text-anchor="middle">2</text>
<line x1="311.90" y1="404.50" x2="311.90" y2="406.50" stroke="#333" stroke-width="0.7" />
<text x="311.90" y="410.80" font-size="5.5" fill="#333" text-anchor="middle">3</text>
<line x1="198.70" y1="326.30" x2="200.70" y2="326.30" stroke="#333" stroke-width="0.7" />
<text x="197.20" y="328.30" font-size="5.5" fill="#333" text-anchor="end">1</text>
<line x1="198.70" y1="357.60" x2="200.70" y2="357.60" stroke="#333" stroke-width="0.7" />
<text x="197.20" y="359.60" font-size="5.5" fill="#333" text-anchor="end">0</text>
<line x1="198.70" y1="388.90" x2="200.70" y2="388.90" stroke="#333" stroke-width="0.7" />
<text x="197.20" y="390.90" font-size="5.5" fill="#333" text-anchor="end">-1</text>
<line x1="321.20" y1="331.40" x2="323.20" y2="331.40" stroke="#333" stroke-width="0.7" />
<text x="324.70" y="333.40" font-size="5.5" fill="#333">0.5</text>
<line x1="321.20" y1="357.70" x2="323.20" y2="357.70" stroke="#333" stroke-width="0.7" />
<text x="324.70" y="359.70" font-size="5.5" fill="#333">0.0</text>
<line x1="321.20" y1="385.00" x2="323.20" y2="385.00" stroke="#333" stroke-width="0.7" />
<text x="324.70" y="387.00" font-size="5.5" fill="#333">-0.5</text>
<line x1="216.40" y1="308.50" x2="216.40" y2="310.50" stroke="#333" stroke-width="0.7" />
<text x="216.40" y="307.00" font-size="5.5" fill="#333" text-anchor="middle">-0.5</text>
<line x1="256.00" y1="308.50" x2="256.00" y2="310.50" stroke="#333" stroke-width="0.7" />
<text x="256.00" y="307.00" font-size="5.5" fill="#333" text-anchor="middle">0.0</text>
<line x1="297.00" y1="308.50" x2="297.00" y2="310.50" stroke="#333" stroke-width="0.7" />
<text x="297.00" y="307.00" font-size="5.5" fill="#333" text-anchor="middle">0.5</text>
<text x="191.20" y="356.00" font-size="8.7" fill="#333" stroke="#333" stroke-width="0.05" text-anchor="middle" transform="rotate(-90 191.20 356.00)" textLength="52" lengthAdjust="spacingAndGlyphs">PC3 (16.6%)</text>
<text x="258.00" y="422.10" font-size="8.7" fill="#333" stroke="#333" stroke-width="0.05" text-anchor="middle" textLength="51" lengthAdjust="spacingAndGlyphs">PC1 (59.5%)</text>
<text x="344.50" y="354.50" font-size="8.6" fill="#333" stroke="#333" stroke-width="0.05" text-anchor="middle" transform="rotate(-90 344.50 354.50)" textLength="65" lengthAdjust="spacingAndGlyphs">Eigenvector PC3</text>
<line x1="256.40" y1="357.60" x2="220.08" y2="347.57" stroke="#30e030" stroke-width="1.0" />
<polygon points="218.00,347.00 221.98,346.13 220.96,349.79" fill="#30e030" stroke="none" stroke-width="1" />
<text x="202.50" y="349.50" font-size="6" fill="#30e030" stroke="#30e030" stroke-width="0.25" font-weight="bold">No.71</text>
<line x1="256.40" y1="357.60" x2="287.50" y2="325.55" stroke="#ff3aa0" stroke-width="1.0" />
<polygon points="289.00,324.00 287.86,327.91 285.13,325.26" fill="#ff3aa0" stroke="none" stroke-width="1" />
<text x="290.00" y="326.00" font-size="6" fill="#ff3aa0" stroke="#ff3aa0" stroke-width="0.25" font-weight="bold">#33b</text>
<line x1="256.40" y1="357.60" x2="278.01" y2="348.44" stroke="#22b422" stroke-width="1.0" />
<polygon points="280.00,347.60 277.43,350.75 275.94,347.26" fill="#22b422" stroke="none" stroke-width="1" />
<text x="281.00" y="348.00" font-size="6" fill="#9a9418" stroke="#9a9418" stroke-width="0.25" font-weight="bold">2610</text>
<line x1="256.40" y1="357.60" x2="296.87" y2="351.05" stroke="#1a30e8" stroke-width="1.0" />
<polygon points="299.00,350.70 295.75,353.15 295.14,349.40" fill="#1a30e8" stroke="none" stroke-width="1" />
<text x="300.00" y="351.70" font-size="6" fill="#1a30e8" stroke="#1a30e8" stroke-width="0.25" font-weight="bold">2602</text>
<line x1="256.40" y1="357.60" x2="290.51" y2="393.44" stroke="#18c8f0" stroke-width="1.0" />
<polygon points="292.00,395.00 288.14,393.70 290.89,391.08" fill="#18c8f0" stroke="none" stroke-width="1" />
<text x="291.00" y="401.00" font-size="6" fill="#18c8f0" stroke="#18c8f0" stroke-width="0.25" font-weight="bold">No.9</text>
<polygon points="211.00,323.70 213.30,326.00 211.00,328.30 208.70,326.00" fill="#8a7a10" stroke="none" stroke-width="1" />
<polygon points="214.00,320.70 216.30,323.00 214.00,325.30 211.70,323.00" fill="#8a7a10" stroke="none" stroke-width="1" />
<polygon points="217.00,322.70 219.30,325.00 217.00,327.30 214.70,325.00" fill="#8a7a10" stroke="none" stroke-width="1" />
<polygon points="213.00,327.70 215.30,330.00 213.00,332.30 210.70,330.00" fill="#8a7a10" stroke="none" stroke-width="1" />
<polygon points="216.00,328.70 218.30,331.00 216.00,333.30 213.70,331.00" fill="#8a7a10" stroke="none" stroke-width="1" />
<polygon points="220.00,324.70 222.30,327.00 220.00,329.30 217.70,327.00" fill="#8a7a10" stroke="none" stroke-width="1" />
<polygon points="221.00,329.70 223.30,332.00 221.00,334.30 218.70,332.00" fill="#8a7a10" stroke="none" stroke-width="1" />
<text x="206.00" y="322.00" font-size="6.5" fill="#8a7a10" stroke="#8a7a10" stroke-width="0.25" font-weight="bold" textLength="20" lengthAdjust="spacingAndGlyphs">Decane</text>
<polygon points="275.00,319.70 277.30,322.00 275.00,324.30 272.70,322.00" fill="#ff28e0" stroke="none" stroke-width="1" />
<polygon points="278.00,317.70 280.30,320.00 278.00,322.30 275.70,320.00" fill="#ff28e0" stroke="none" stroke-width="1" />
<polygon points="281.00,315.70 283.30,318.00 281.00,320.30 278.70,318.00" fill="#ff28e0" stroke="none" stroke-width="1" />
<polygon points="275.00,325.70 277.30,328.00 275.00,330.30 272.70,328.00" fill="#ff28e0" stroke="none" stroke-width="1" />
<polygon points="279.00,324.70 281.30,327.00 279.00,329.30 276.70,327.00" fill="#ff28e0" stroke="none" stroke-width="1" />
<polygon points="277.00,321.70 279.30,324.00 277.00,326.30 274.70,324.00" fill="#ff28e0" stroke="none" stroke-width="1" />
<text x="270.00" y="317.00" font-size="6.5" fill="#ff28e0" stroke="#ff28e0" stroke-width="0.25" font-weight="bold" textLength="19" lengthAdjust="spacingAndGlyphs">Acetoin</text>
<polygon points="230.00,377.70 232.30,380.00 230.00,382.30 227.70,380.00" fill="#18c8f0" stroke="none" stroke-width="1" />
<polygon points="232.00,381.70 234.30,384.00 232.00,386.30 229.70,384.00" fill="#18c8f0" stroke="none" stroke-width="1" />
<polygon points="239.00,386.70 241.30,389.00 239.00,391.30 236.70,389.00" fill="#18c8f0" stroke="none" stroke-width="1" />
<polygon points="242.00,389.70 244.30,392.00 242.00,394.30 239.70,392.00" fill="#18c8f0" stroke="none" stroke-width="1" />
<polygon points="243.00,390.70 245.30,393.00 243.00,395.30 240.70,393.00" fill="#18c8f0" stroke="none" stroke-width="1" />
<polygon points="236.00,383.70 238.30,386.00 236.00,388.30 233.70,386.00" fill="#18c8f0" stroke="none" stroke-width="1" />
<text x="218.00" y="376.50" font-size="6.5" fill="#18c8f0" stroke="#18c8f0" stroke-width="0.25" font-weight="bold" textLength="21" lengthAdjust="spacingAndGlyphs">Acetone</text>
<polygon points="242.00,380.70 244.30,383.00 242.00,385.30 239.70,383.00" fill="#1a30e8" stroke="none" stroke-width="1" />
<polygon points="246.00,383.70 248.30,386.00 246.00,388.30 243.70,386.00" fill="#1a30e8" stroke="none" stroke-width="1" />
<polygon points="247.00,385.70 249.30,388.00 247.00,390.30 244.70,388.00" fill="#1a30e8" stroke="none" stroke-width="1" />
<polygon points="254.00,391.70 256.30,394.00 254.00,396.30 251.70,394.00" fill="#1a30e8" stroke="none" stroke-width="1" />
<polygon points="255.00,392.70 257.30,395.00 255.00,397.30 252.70,395.00" fill="#1a30e8" stroke="none" stroke-width="1" />
<polygon points="252.00,390.70 254.30,393.00 252.00,395.30 249.70,393.00" fill="#1a30e8" stroke="none" stroke-width="1" />
<text x="240.00" y="380.60" font-size="6.5" fill="#1a30e8" stroke="#1a30e8" stroke-width="0.25" font-weight="bold" textLength="14" lengthAdjust="spacingAndGlyphs">MIBK</text>
<polygon points="299.00,355.70 301.30,358.00 299.00,360.30 296.70,358.00" fill="#ff1a1a" stroke="none" stroke-width="1" />
<polygon points="303.00,358.70 305.30,361.00 303.00,363.30 300.70,361.00" fill="#ff1a1a" stroke="none" stroke-width="1" />
<polygon points="306.00,358.70 308.30,361.00 306.00,363.30 303.70,361.00" fill="#ff1a1a" stroke="none" stroke-width="1" />
<polygon points="312.00,363.70 314.30,366.00 312.00,368.30 309.70,366.00" fill="#ff1a1a" stroke="none" stroke-width="1" />
<text x="288.00" y="368.00" font-size="6.5" fill="#ff1a1a" stroke="#ff1a1a" stroke-width="0.25" font-weight="bold" textLength="21" lengthAdjust="spacingAndGlyphs">Nonanal</text>
<text x="223.60" y="333.20" font-size="3" fill="#c8c080" textLength="3.5" lengthAdjust="spacingAndGlyphs">iii</text>
<text x="222.60" y="328.20" font-size="3" fill="#c8c080" textLength="3.5" lengthAdjust="spacingAndGlyphs">iii</text>
<text x="283.60" y="319.20" font-size="3" fill="#f0a0f0" textLength="3.5" lengthAdjust="spacingAndGlyphs">iii</text>
<text x="281.60" y="328.20" font-size="3" fill="#f0a0f0" textLength="3.5" lengthAdjust="spacingAndGlyphs">iii</text>
<text x="238.60" y="387.20" font-size="3" fill="#90e0f8" textLength="3.5" lengthAdjust="spacingAndGlyphs">iii</text>
<text x="245.60" y="394.20" font-size="3" fill="#90e0f8" textLength="3.5" lengthAdjust="spacingAndGlyphs">iii</text>
<text x="249.60" y="389.20" font-size="3" fill="#9aa0ff" textLength="3.5" lengthAdjust="spacingAndGlyphs">iii</text>
<text x="257.60" y="396.20" font-size="3" fill="#9aa0ff" textLength="3.5" lengthAdjust="spacingAndGlyphs">iii</text>
<text x="308.60" y="362.20" font-size="3" fill="#ff9a9a" textLength="3.5" lengthAdjust="spacingAndGlyphs">iii</text>
<text x="314.60" y="367.20" font-size="3" fill="#ff9a9a" textLength="3.5" lengthAdjust="spacingAndGlyphs">iii</text>
<text x="356.50" y="166.50" font-size="15" fill="#111" stroke="#111" stroke-width="0.45" textLength="17.5" lengthAdjust="spacingAndGlyphs">(g)</text>
<rect x="402.70" y="156.40" width="133.70" height="86.90" fill="none" stroke="#8c8c8c" stroke-width="1" />
<line x1="402.60" y1="243.30" x2="402.60" y2="245.30" stroke="#555" stroke-width="0.6" />
<text x="402.60" y="249.50" font-size="4.8" fill="#444" text-anchor="middle">−100</text>
<line x1="425.80" y1="243.30" x2="425.80" y2="245.30" stroke="#555" stroke-width="0.6" />
<text x="425.80" y="249.50" font-size="4.8" fill="#444" text-anchor="middle">−50</text>
<line x1="449.00" y1="243.30" x2="449.00" y2="245.30" stroke="#555" stroke-width="0.6" />
<text x="449.00" y="249.50" font-size="4.8" fill="#444" text-anchor="middle">0</text>
<line x1="472.20" y1="243.30" x2="472.20" y2="245.30" stroke="#555" stroke-width="0.6" />
<text x="472.20" y="249.50" font-size="4.8" fill="#444" text-anchor="middle">50</text>
<line x1="495.40" y1="243.30" x2="495.40" y2="245.30" stroke="#555" stroke-width="0.6" />
<text x="495.40" y="249.50" font-size="4.8" fill="#444" text-anchor="middle">100</text>
<line x1="518.60" y1="243.30" x2="518.60" y2="245.30" stroke="#555" stroke-width="0.6" />
<text x="518.60" y="249.50" font-size="4.8" fill="#444" text-anchor="middle">150</text>
<line x1="400.70" y1="163.40" x2="402.70" y2="163.40" stroke="#555" stroke-width="0.6" />
<text x="399.50" y="165.10" font-size="4.8" fill="#444" text-anchor="end">100</text>
<line x1="400.70" y1="173.80" x2="402.70" y2="173.80" stroke="#555" stroke-width="0.6" />
<text x="399.50" y="175.50" font-size="4.8" fill="#444" text-anchor="end">75</text>
<line x1="400.70" y1="184.20" x2="402.70" y2="184.20" stroke="#555" stroke-width="0.6" />
<text x="399.50" y="185.90" font-size="4.8" fill="#444" text-anchor="end">50</text>
<line x1="400.70" y1="194.60" x2="402.70" y2="194.60" stroke="#555" stroke-width="0.6" />
<text x="399.50" y="196.30" font-size="4.8" fill="#444" text-anchor="end">25</text>
<line x1="400.70" y1="205.00" x2="402.70" y2="205.00" stroke="#555" stroke-width="0.6" />
<text x="399.50" y="206.70" font-size="4.8" fill="#444" text-anchor="end">0</text>
<line x1="400.70" y1="215.40" x2="402.70" y2="215.40" stroke="#555" stroke-width="0.6" />
<text x="399.50" y="217.10" font-size="4.8" fill="#444" text-anchor="end">−25</text>
<line x1="400.70" y1="225.80" x2="402.70" y2="225.80" stroke="#555" stroke-width="0.6" />
<text x="399.50" y="227.50" font-size="4.8" fill="#444" text-anchor="end">−50</text>
<line x1="400.70" y1="236.20" x2="402.70" y2="236.20" stroke="#555" stroke-width="0.6" />
<text x="399.50" y="237.90" font-size="4.8" fill="#444" text-anchor="end">−75</text>
<text x="389.50" y="200.00" font-size="8.6" fill="#222" text-anchor="middle" transform="rotate(-90 389.50 200.00)" textLength="54" lengthAdjust="spacingAndGlyphs">PC2(17.44%)</text>
<text x="464.20" y="259.40" font-size="8.6" fill="#222" text-anchor="middle" textLength="52.4" lengthAdjust="spacingAndGlyphs">PC1(49.75%)</text>
<circle cx="444.10" cy="188.50" r="1.85" fill="#ee1111" stroke="none" stroke-width="1"/>
<circle cx="501.20" cy="222.40" r="1.85" fill="#ee1111" stroke="none" stroke-width="1"/>
<circle cx="452.90" cy="190.30" r="1.85" fill="#ee1111" stroke="none" stroke-width="1"/>
<circle cx="430.90" cy="190.30" r="1.85" fill="#118a11" stroke="none" stroke-width="1"/>
<circle cx="497.40" cy="211.10" r="1.85" fill="#ee1111" stroke="none" stroke-width="1"/>
<circle cx="484.80" cy="210.20" r="1.85" fill="#ee1111" stroke="none" stroke-width="1"/>
<circle cx="467.90" cy="214.10" r="1.85" fill="#ee1111" stroke="none" stroke-width="1"/>
<circle cx="445.00" cy="210.60" r="1.85" fill="#ee1111" stroke="none" stroke-width="1"/>
<circle cx="428.20" cy="219.40" r="1.85" fill="#ee1111" stroke="none" stroke-width="1"/>
<circle cx="485.70" cy="214.40" r="1.85" fill="#118a11" stroke="none" stroke-width="1"/>
<circle cx="446.70" cy="222.00" r="1.85" fill="#118a11" stroke="none" stroke-width="1"/>
<circle cx="459.10" cy="190.30" r="1.85" fill="#ee1111" stroke="none" stroke-width="1"/>
<circle cx="479.10" cy="194.80" r="1.85" fill="#ee1111" stroke="none" stroke-width="1"/>
<circle cx="452.90" cy="224.70" r="1.85" fill="#ee1111" stroke="none" stroke-width="1"/>
<circle cx="454.70" cy="216.70" r="1.85" fill="#ee1111" stroke="none" stroke-width="1"/>
<circle cx="488.50" cy="189.50" r="1.85" fill="#ee1111" stroke="none" stroke-width="1"/>
<circle cx="423.80" cy="207.90" r="1.85" fill="#ee1111" stroke="none" stroke-width="1"/>
<circle cx="465.00" cy="221.50" r="1.85" fill="#ee1111" stroke="none" stroke-width="1"/>
<circle cx="425.60" cy="204.40" r="1.85" fill="#ee1111" stroke="none" stroke-width="1"/>
<circle cx="467.00" cy="215.79" r="1.85" fill="#118a11" stroke="none" stroke-width="1"/>
<circle cx="440.20" cy="222.00" r="1.85" fill="#ee1111" stroke="none" stroke-width="1"/>
<circle cx="422.90" cy="194.70" r="1.85" fill="#118a11" stroke="none" stroke-width="1"/>
<circle cx="504.20" cy="225.80" r="1.85" fill="#118a11" stroke="none" stroke-width="1"/>
<circle cx="417.08" cy="208.07" r="1.85" fill="#118a11" stroke="none" stroke-width="1"/>
<circle cx="421.20" cy="217.60" r="1.85" fill="#118a11" stroke="none" stroke-width="1"/>
<circle cx="469.87" cy="223.23" r="1.85" fill="#ee1111" stroke="none" stroke-width="1"/>
<circle cx="492.30" cy="215.50" r="1.85" fill="#ee1111" stroke="none" stroke-width="1"/>
<circle cx="428.99" cy="199.14" r="1.85" fill="#118a11" stroke="none" stroke-width="1"/>
<circle cx="468.80" cy="201.70" r="1.85" fill="#ee1111" stroke="none" stroke-width="1"/>
<circle cx="457.15" cy="191.88" r="1.85" fill="#ee1111" stroke="none" stroke-width="1"/>
<circle cx="450.22" cy="196.89" r="1.85" fill="#ee1111" stroke="none" stroke-width="1"/>
<circle cx="456.00" cy="205.00" r="1.85" fill="#118a11" stroke="none" stroke-width="1"/>
<circle cx="482.00" cy="208.30" r="1.85" fill="#118a11" stroke="none" stroke-width="1"/>
<circle cx="465.30" cy="206.20" r="1.85" fill="#ee1111" stroke="none" stroke-width="1"/>
<circle cx="488.50" cy="234.30" r="1.85" fill="#118a11" stroke="none" stroke-width="1"/>
<circle cx="469.70" cy="194.20" r="1.85" fill="#ee1111" stroke="none" stroke-width="1"/>
<circle cx="458.20" cy="194.70" r="1.85" fill="#118a11" stroke="none" stroke-width="1"/>
<circle cx="482.00" cy="175.70" r="1.85" fill="#118a11" stroke="none" stroke-width="1"/>
<circle cx="441.40" cy="216.70" r="1.85" fill="#ee1111" stroke="none" stroke-width="1"/>
<circle cx="429.10" cy="215.00" r="1.85" fill="#ee1111" stroke="none" stroke-width="1"/>
<circle cx="435.30" cy="210.60" r="1.85" fill="#ee1111" stroke="none" stroke-width="1"/>
<circle cx="421.20" cy="210.60" r="1.85" fill="#118a11" stroke="none" stroke-width="1"/>
<circle cx="432.60" cy="221.10" r="1.85" fill="#118a11" stroke="none" stroke-width="1"/>
<circle cx="486.70" cy="200.80" r="1.85" fill="#ee1111" stroke="none" stroke-width="1"/>
<circle cx="409.70" cy="207.90" r="1.85" fill="#ee1111" stroke="none" stroke-width="1"/>
<circle cx="475.40" cy="217.40" r="1.85" fill="#ee1111" stroke="none" stroke-width="1"/>
<circle cx="468.40" cy="178.20" r="1.85" fill="#118a11" stroke="none" stroke-width="1"/>
<circle cx="453.80" cy="204.40" r="1.85" fill="#ee1111" stroke="none" stroke-width="1"/>
<circle cx="445.00" cy="193.80" r="1.85" fill="#ee1111" stroke="none" stroke-width="1"/>
<circle cx="434.40" cy="206.20" r="1.85" fill="#ee1111" stroke="none" stroke-width="1"/>
<circle cx="437.90" cy="192.90" r="1.85" fill="#ee1111" stroke="none" stroke-width="1"/>
<circle cx="414.10" cy="217.60" r="1.85" fill="#118a11" stroke="none" stroke-width="1"/>
<circle cx="456.40" cy="214.10" r="1.85" fill="#118a11" stroke="none" stroke-width="1"/>
<circle cx="496.10" cy="197.00" r="1.85" fill="#118a11" stroke="none" stroke-width="1"/>
<circle cx="426.50" cy="192.90" r="1.85" fill="#ee1111" stroke="none" stroke-width="1"/>
<circle cx="496.10" cy="207.40" r="1.85" fill="#ee1111" stroke="none" stroke-width="1"/>
<circle cx="440.60" cy="227.30" r="1.85" fill="#118a11" stroke="none" stroke-width="1"/>
<circle cx="467.30" cy="234.30" r="1.85" fill="#118a11" stroke="none" stroke-width="1"/>
<circle cx="432.60" cy="192.90" r="1.85" fill="#ee1111" stroke="none" stroke-width="1"/>
<circle cx="452.60" cy="176.20" r="1.85" fill="#118a11" stroke="none" stroke-width="1"/>
<circle cx="486.70" cy="192.90" r="1.85" fill="#118a11" stroke="none" stroke-width="1"/>
<circle cx="470.00" cy="202.00" r="1.85" fill="#118a11" stroke="none" stroke-width="1"/>
<circle cx="441.40" cy="177.90" r="1.85" fill="#ee1111" stroke="none" stroke-width="1"/>
<circle cx="436.26" cy="216.21" r="1.85" fill="#ee1111" stroke="none" stroke-width="1"/>
<circle cx="424.70" cy="216.70" r="1.85" fill="#118a11" stroke="none" stroke-width="1"/>
<circle cx="478.20" cy="207.40" r="1.85" fill="#ee1111" stroke="none" stroke-width="1"/>
<circle cx="440.60" cy="189.40" r="1.85" fill="#118a11" stroke="none" stroke-width="1"/>
<circle cx="442.30" cy="208.80" r="1.85" fill="#ee1111" stroke="none" stroke-width="1"/>
<circle cx="422.00" cy="192.00" r="1.85" fill="#118a11" stroke="none" stroke-width="1"/>
<circle cx="517.40" cy="198.90" r="1.85" fill="#ee1111" stroke="none" stroke-width="1"/>
<circle cx="483.80" cy="214.00" r="1.85" fill="#118a11" stroke="none" stroke-width="1"/>
<circle cx="442.30" cy="227.30" r="1.85" fill="#ee1111" stroke="none" stroke-width="1"/>
<circle cx="451.10" cy="214.10" r="1.85" fill="#118a11" stroke="none" stroke-width="1"/>
<circle cx="462.60" cy="209.70" r="1.85" fill="#ee1111" stroke="none" stroke-width="1"/>
<circle cx="461.70" cy="237.90" r="1.85" fill="#ee1111" stroke="none" stroke-width="1"/>
<circle cx="410.60" cy="196.50" r="1.85" fill="#118a11" stroke="none" stroke-width="1"/>
<circle cx="433.50" cy="212.30" r="1.85" fill="#118a11" stroke="none" stroke-width="1"/>
<circle cx="506.80" cy="188.00" r="1.85" fill="#118a11" stroke="none" stroke-width="1"/>
<circle cx="491.00" cy="167.80" r="1.85" fill="#118a11" stroke="none" stroke-width="1"/>
<circle cx="448.50" cy="207.90" r="1.85" fill="#ee1111" stroke="none" stroke-width="1"/>
<circle cx="420.82" cy="213.99" r="1.85" fill="#118a11" stroke="none" stroke-width="1"/>
<circle cx="442.30" cy="215.00" r="1.85" fill="#ee1111" stroke="none" stroke-width="1"/>
<circle cx="422.00" cy="200.90" r="1.85" fill="#118a11" stroke="none" stroke-width="1"/>
<circle cx="441.40" cy="204.40" r="1.85" fill="#118a11" stroke="none" stroke-width="1"/>
<circle cx="447.60" cy="213.20" r="1.85" fill="#118a11" stroke="none" stroke-width="1"/>
<circle cx="417.60" cy="193.80" r="1.85" fill="#118a11" stroke="none" stroke-width="1"/>
<circle cx="468.80" cy="200.00" r="1.85" fill="#ee1111" stroke="none" stroke-width="1"/>
<circle cx="434.00" cy="208.00" r="1.85" fill="#118a11" stroke="none" stroke-width="1"/>
<circle cx="437.33" cy="183.98" r="1.85" fill="#118a11" stroke="none" stroke-width="1"/>
<circle cx="480.00" cy="222.40" r="1.85" fill="#118a11" stroke="none" stroke-width="1"/>
<circle cx="413.20" cy="199.10" r="1.85" fill="#ee1111" stroke="none" stroke-width="1"/>
<circle cx="465.00" cy="198.90" r="1.85" fill="#ee1111" stroke="none" stroke-width="1"/>
<circle cx="437.00" cy="192.00" r="1.85" fill="#118a11" stroke="none" stroke-width="1"/>
<circle cx="411.50" cy="198.20" r="1.85" fill="#118a11" stroke="none" stroke-width="1"/>
<circle cx="427.30" cy="206.20" r="1.85" fill="#ee1111" stroke="none" stroke-width="1"/>
<circle cx="470.30" cy="224.30" r="1.85" fill="#ee1111" stroke="none" stroke-width="1"/>
<circle cx="448.50" cy="217.60" r="1.85" fill="#ee1111" stroke="none" stroke-width="1"/>
<circle cx="458.20" cy="220.30" r="1.85" fill="#ee1111" stroke="none" stroke-width="1"/>
<circle cx="417.60" cy="211.40" r="1.85" fill="#ee1111" stroke="none" stroke-width="1"/>
<circle cx="466.90" cy="215.80" r="1.85" fill="#118a11" stroke="none" stroke-width="1"/>
<circle cx="457.30" cy="212.30" r="1.85" fill="#ee1111" stroke="none" stroke-width="1"/>
<circle cx="436.20" cy="193.80" r="1.85" fill="#ee1111" stroke="none" stroke-width="1"/>
<circle cx="442.49" cy="200.80" r="1.85" fill="#ee1111" stroke="none" stroke-width="1"/>
<circle cx="414.35" cy="190.12" r="1.85" fill="#118a11" stroke="none" stroke-width="1"/>
<circle cx="452.00" cy="207.90" r="1.85" fill="#ee1111" stroke="none" stroke-width="1"/>
<circle cx="509.30" cy="215.80" r="1.85" fill="#ee1111" stroke="none" stroke-width="1"/>
<circle cx="452.90" cy="211.40" r="1.85" fill="#ee1111" stroke="none" stroke-width="1"/>
<circle cx="490.40" cy="210.20" r="1.85" fill="#118a11" stroke="none" stroke-width="1"/>
<circle cx="435.30" cy="185.00" r="1.85" fill="#118a11" stroke="none" stroke-width="1"/>
<circle cx="456.40" cy="192.00" r="1.85" fill="#ee1111" stroke="none" stroke-width="1"/>
<circle cx="426.53" cy="205.76" r="1.85" fill="#ee1111" stroke="none" stroke-width="1"/>
<circle cx="422.90" cy="186.80" r="1.85" fill="#118a11" stroke="none" stroke-width="1"/>
<circle cx="423.80" cy="213.20" r="1.85" fill="#ee1111" stroke="none" stroke-width="1"/>
<circle cx="467.00" cy="218.50" r="1.85" fill="#ee1111" stroke="none" stroke-width="1"/>
<circle cx="430.30" cy="197.52" r="1.85" fill="#ee1111" stroke="none" stroke-width="1"/>
<circle cx="500.80" cy="199.80" r="1.85" fill="#118a11" stroke="none" stroke-width="1"/>
<circle cx="452.00" cy="197.30" r="1.85" fill="#ee1111" stroke="none" stroke-width="1"/>
<circle cx="426.50" cy="230.80" r="1.85" fill="#118a11" stroke="none" stroke-width="1"/>
<circle cx="447.27" cy="204.07" r="1.85" fill="#118a11" stroke="none" stroke-width="1"/>
<circle cx="445.90" cy="222.00" r="1.85" fill="#ee1111" stroke="none" stroke-width="1"/>
<circle cx="488.50" cy="218.70" r="1.85" fill="#118a11" stroke="none" stroke-width="1"/>
<circle cx="467.69" cy="206.17" r="1.85" fill="#ee1111" stroke="none" stroke-width="1"/>
<circle cx="426.00" cy="219.00" r="1.85" fill="#118a11" stroke="none" stroke-width="1"/>
<circle cx="465.30" cy="214.10" r="1.85" fill="#ee1111" stroke="none" stroke-width="1"/>
<circle cx="451.10" cy="199.10" r="1.85" fill="#118a11" stroke="none" stroke-width="1"/>
<circle cx="410.60" cy="202.60" r="1.85" fill="#118a11" stroke="none" stroke-width="1"/>
<circle cx="446.47" cy="200.12" r="1.85" fill="#118a11" stroke="none" stroke-width="1"/>
<circle cx="477.20" cy="218.70" r="1.85" fill="#ee1111" stroke="none" stroke-width="1"/>
<circle cx="473.50" cy="191.40" r="1.85" fill="#118a11" stroke="none" stroke-width="1"/>
<circle cx="496.60" cy="227.10" r="1.85" fill="#ee1111" stroke="none" stroke-width="1"/>
<circle cx="460.00" cy="216.70" r="1.85" fill="#118a11" stroke="none" stroke-width="1"/>
<circle cx="448.50" cy="228.20" r="1.85" fill="#118a11" stroke="none" stroke-width="1"/>
<circle cx="422.90" cy="216.70" r="1.85" fill="#ee1111" stroke="none" stroke-width="1"/>
<circle cx="482.90" cy="214.00" r="1.85" fill="#ee1111" stroke="none" stroke-width="1"/>
<circle cx="418.50" cy="206.20" r="1.85" fill="#ee1111" stroke="none" stroke-width="1"/>
<circle cx="437.00" cy="213.20" r="1.85" fill="#118a11" stroke="none" stroke-width="1"/>
<circle cx="460.00" cy="202.60" r="1.85" fill="#ee1111" stroke="none" stroke-width="1"/>
<circle cx="422.65" cy="203.11" r="1.85" fill="#118a11" stroke="none" stroke-width="1"/>
<circle cx="415.33" cy="204.04" r="1.85" fill="#118a11" stroke="none" stroke-width="1"/>
<circle cx="529.40" cy="214.30" r="1.85" fill="#ee1111" stroke="none" stroke-width="1"/>
<circle cx="487.60" cy="199.30" r="1.85" fill="#118a11" stroke="none" stroke-width="1"/>
<circle cx="460.00" cy="223.80" r="1.85" fill="#ee1111" stroke="none" stroke-width="1"/>
<circle cx="461.70" cy="198.20" r="1.85" fill="#118a11" stroke="none" stroke-width="1"/>
<circle cx="448.50" cy="195.60" r="1.85" fill="#118a11" stroke="none" stroke-width="1"/>
<circle cx="453.93" cy="205.53" r="1.85" fill="#ee1111" stroke="none" stroke-width="1"/>
<circle cx="471.60" cy="200.80" r="1.85" fill="#ee1111" stroke="none" stroke-width="1"/>
<circle cx="524.90" cy="213.60" r="1.85" fill="#118a11" stroke="none" stroke-width="1"/>
<circle cx="438.08" cy="195.50" r="1.85" fill="#118a11" stroke="none" stroke-width="1"/>
<circle cx="466.90" cy="214.30" r="1.85" fill="#ee1111" stroke="none" stroke-width="1"/>
<circle cx="478.20" cy="213.00" r="1.85" fill="#118a11" stroke="none" stroke-width="1"/>
<circle cx="450.30" cy="199.10" r="1.85" fill="#ee1111" stroke="none" stroke-width="1"/>
<circle cx="469.70" cy="192.90" r="1.85" fill="#ee1111" stroke="none" stroke-width="1"/>
<circle cx="452.90" cy="215.90" r="1.85" fill="#118a11" stroke="none" stroke-width="1"/>
<circle cx="419.40" cy="196.50" r="1.85" fill="#118a11" stroke="none" stroke-width="1"/>
<circle cx="465.90" cy="218.70" r="1.85" fill="#ee1111" stroke="none" stroke-width="1"/>
<circle cx="436.20" cy="217.60" r="1.85" fill="#ee1111" stroke="none" stroke-width="1"/>
<circle cx="466.10" cy="221.10" r="1.85" fill="#ee1111" stroke="none" stroke-width="1"/>
<circle cx="449.40" cy="188.50" r="1.85" fill="#ee1111" stroke="none" stroke-width="1"/>
<circle cx="450.30" cy="230.00" r="1.85" fill="#118a11" stroke="none" stroke-width="1"/>
<circle cx="492.90" cy="171.60" r="1.85" fill="#118a11" stroke="none" stroke-width="1"/>
<circle cx="436.00" cy="187.00" r="1.85" fill="#118a11" stroke="none" stroke-width="1"/>
<circle cx="428.00" cy="205.00" r="1.85" fill="#118a11" stroke="none" stroke-width="1"/>
<circle cx="460.00" cy="214.10" r="1.85" fill="#ee1111" stroke="none" stroke-width="1"/>
<circle cx="439.23" cy="211.98" r="1.85" fill="#ee1111" stroke="none" stroke-width="1"/>
<circle cx="446.20" cy="173.90" r="1.85" fill="#118a11" stroke="none" stroke-width="1"/>
<circle cx="494.20" cy="173.50" r="1.85" fill="#118a11" stroke="none" stroke-width="1"/>
<circle cx="481.00" cy="203.60" r="1.85" fill="#ee1111" stroke="none" stroke-width="1"/>
<circle cx="418.86" cy="213.37" r="1.85" fill="#ee1111" stroke="none" stroke-width="1"/>
<circle cx="424.70" cy="212.30" r="1.85" fill="#118a11" stroke="none" stroke-width="1"/>
<circle cx="446.70" cy="185.00" r="1.85" fill="#ee1111" stroke="none" stroke-width="1"/>
<circle cx="494.20" cy="192.30" r="1.85" fill="#ee1111" stroke="none" stroke-width="1"/>
<circle cx="432.34" cy="206.95" r="1.85" fill="#ee1111" stroke="none" stroke-width="1"/>
<circle cx="440.60" cy="212.30" r="1.85" fill="#118a11" stroke="none" stroke-width="1"/>
<circle cx="480.10" cy="208.30" r="1.85" fill="#ee1111" stroke="none" stroke-width="1"/>
<circle cx="437.90" cy="206.20" r="1.85" fill="#ee1111" stroke="none" stroke-width="1"/>
<circle cx="427.30" cy="199.10" r="1.85" fill="#ee1111" stroke="none" stroke-width="1"/>
<circle cx="415.30" cy="227.30" r="1.85" fill="#118a11" stroke="none" stroke-width="1"/>
<circle cx="431.80" cy="215.00" r="1.85" fill="#ee1111" stroke="none" stroke-width="1"/>
<circle cx="466.90" cy="205.50" r="1.85" fill="#ee1111" stroke="none" stroke-width="1"/>
<circle cx="446.70" cy="226.40" r="1.85" fill="#118a11" stroke="none" stroke-width="1"/>
<circle cx="419.40" cy="207.90" r="1.85" fill="#ee1111" stroke="none" stroke-width="1"/>
<circle cx="445.90" cy="201.70" r="1.85" fill="#ee1111" stroke="none" stroke-width="1"/>
<circle cx="433.50" cy="194.70" r="1.85" fill="#118a11" stroke="none" stroke-width="1"/>
<circle cx="459.40" cy="177.40" r="1.85" fill="#118a11" stroke="none" stroke-width="1"/>
<circle cx="416.80" cy="200.90" r="1.85" fill="#118a11" stroke="none" stroke-width="1"/>
<circle cx="471.60" cy="212.10" r="1.85" fill="#ee1111" stroke="none" stroke-width="1"/>
<circle cx="475.40" cy="199.50" r="1.85" fill="#118a11" stroke="none" stroke-width="1"/>
<circle cx="444.10" cy="214.10" r="1.85" fill="#118a11" stroke="none" stroke-width="1"/>
<circle cx="429.10" cy="213.20" r="1.85" fill="#118a11" stroke="none" stroke-width="1"/>
<circle cx="430.90" cy="192.00" r="1.85" fill="#ee1111" stroke="none" stroke-width="1"/>
<circle cx="468.40" cy="178.30" r="1.85" fill="#118a11" stroke="none" stroke-width="1"/>
<circle cx="440.44" cy="198.09" r="1.85" fill="#118a11" stroke="none" stroke-width="1"/>
<circle cx="438.00" cy="199.00" r="1.85" fill="#118a11" stroke="none" stroke-width="1"/>
<circle cx="464.40" cy="193.80" r="1.85" fill="#118a11" stroke="none" stroke-width="1"/>
<circle cx="440.67" cy="200.00" r="1.85" fill="#118a11" stroke="none" stroke-width="1"/>
<circle cx="487.60" cy="214.90" r="1.85" fill="#118a11" stroke="none" stroke-width="1"/>
<circle cx="483.80" cy="203.60" r="1.85" fill="#ee1111" stroke="none" stroke-width="1"/>
<circle cx="467.00" cy="234.40" r="1.85" fill="#118a11" stroke="none" stroke-width="1"/>
<circle cx="446.70" cy="213.20" r="1.85" fill="#ee1111" stroke="none" stroke-width="1"/>
<circle cx="416.80" cy="217.60" r="1.85" fill="#ee1111" stroke="none" stroke-width="1"/>
<circle cx="447.60" cy="192.00" r="1.85" fill="#118a11" stroke="none" stroke-width="1"/>
<circle cx="438.80" cy="194.70" r="1.85" fill="#ee1111" stroke="none" stroke-width="1"/>
<circle cx="442.30" cy="192.00" r="1.85" fill="#ee1111" stroke="none" stroke-width="1"/>
<circle cx="475.40" cy="211.70" r="1.85" fill="#ee1111" stroke="none" stroke-width="1"/>
<circle cx="437.98" cy="205.22" r="1.85" fill="#118a11" stroke="none" stroke-width="1"/>
<circle cx="449.40" cy="203.50" r="1.85" fill="#ee1111" stroke="none" stroke-width="1"/>
<circle cx="427.30" cy="190.30" r="1.85" fill="#118a11" stroke="none" stroke-width="1"/>
<rect x="405.00" y="158.00" width="39.50" height="13.00" fill="#fff" stroke="#d8d8d8" stroke-width="0.6" fill-opacity="0.85" rx="1"/>
<circle cx="410.80" cy="161.64" r="1.90" fill="#118a11" stroke="none" stroke-width="1"/>
<circle cx="410.80" cy="167.36" r="1.90" fill="#ee1111" stroke="none" stroke-width="1"/>
<text x="418.00" y="163.64" font-size="6" fill="#333" textLength="16" lengthAdjust="spacingAndGlyphs">Healthy</text>
<text x="418.00" y="169.36" font-size="6" fill="#333" textLength="28" lengthAdjust="spacingAndGlyphs">Lung Cancer</text>
<text x="360.50" y="273.80" font-size="15" fill="#111" stroke="#111" stroke-width="0.45" textLength="17.5" lengthAdjust="spacingAndGlyphs">(h)</text>
<rect x="402.70" y="264.20" width="133.70" height="39.80" fill="none" stroke="#8c8c8c" stroke-width="1" />
<line x1="402.60" y1="304.00" x2="402.60" y2="305.50" stroke="#555" stroke-width="0.6" />
<line x1="425.80" y1="304.00" x2="425.80" y2="305.50" stroke="#555" stroke-width="0.6" />
<line x1="449.00" y1="304.00" x2="449.00" y2="305.50" stroke="#555" stroke-width="0.6" />
<line x1="472.20" y1="304.00" x2="472.20" y2="305.50" stroke="#555" stroke-width="0.6" />
<line x1="495.40" y1="304.00" x2="495.40" y2="305.50" stroke="#555" stroke-width="0.6" />
<line x1="518.60" y1="304.00" x2="518.60" y2="305.50" stroke="#555" stroke-width="0.6" />
<text x="389.30" y="282.00" font-size="8.1" fill="#222" text-anchor="middle" transform="rotate(-90 389.30 282.00)" textLength="65" lengthAdjust="spacingAndGlyphs">Axis only for show</text>
<text x="466.20" y="314.50" font-size="8.4" fill="#222" text-anchor="middle" textLength="43.3" lengthAdjust="spacingAndGlyphs">LDA Feature</text>
<circle cx="406.80" cy="284.40" r="0.95" fill="#118a11" stroke="none" stroke-width="1"/>
<circle cx="408.05" cy="284.40" r="0.95" fill="#118a11" stroke="none" stroke-width="1"/>
<circle cx="410.40" cy="284.40" r="0.95" fill="#118a11" stroke="none" stroke-width="1"/>
<circle cx="411.65" cy="284.40" r="0.95" fill="#118a11" stroke="none" stroke-width="1"/>
<circle cx="413.40" cy="284.40" r="0.95" fill="#118a11" stroke="none" stroke-width="1"/>
<circle cx="414.65" cy="284.40" r="0.95" fill="#118a11" stroke="none" stroke-width="1"/>
<circle cx="417.70" cy="284.40" r="0.95" fill="#118a11" stroke="none" stroke-width="1"/>
<circle cx="418.95" cy="284.40" r="0.95" fill="#118a11" stroke="none" stroke-width="1"/>
<circle cx="420.20" cy="284.40" r="0.95" fill="#118a11" stroke="none" stroke-width="1"/>
<circle cx="421.45" cy="284.40" r="0.95" fill="#118a11" stroke="none" stroke-width="1"/>
<circle cx="422.70" cy="284.40" r="0.95" fill="#118a11" stroke="none" stroke-width="1"/>
<circle cx="423.95" cy="284.40" r="0.95" fill="#118a11" stroke="none" stroke-width="1"/>
<circle cx="425.20" cy="284.40" r="0.95" fill="#118a11" stroke="none" stroke-width="1"/>
<circle cx="426.45" cy="284.40" r="0.95" fill="#118a11" stroke="none" stroke-width="1"/>
<circle cx="427.70" cy="284.40" r="0.95" fill="#118a11" stroke="none" stroke-width="1"/>
<circle cx="428.95" cy="284.40" r="0.95" fill="#118a11" stroke="none" stroke-width="1"/>
<circle cx="430.20" cy="284.40" r="0.95" fill="#118a11" stroke="none" stroke-width="1"/>
<circle cx="431.45" cy="284.40" r="0.95" fill="#118a11" stroke="none" stroke-width="1"/>
<circle cx="432.70" cy="284.40" r="0.95" fill="#118a11" stroke="none" stroke-width="1"/>
<circle cx="433.95" cy="284.40" r="0.95" fill="#118a11" stroke="none" stroke-width="1"/>
<circle cx="435.20" cy="284.40" r="0.95" fill="#118a11" stroke="none" stroke-width="1"/>
<circle cx="436.45" cy="284.40" r="0.95" fill="#118a11" stroke="none" stroke-width="1"/>
<circle cx="437.70" cy="284.40" r="0.95" fill="#118a11" stroke="none" stroke-width="1"/>
<circle cx="438.95" cy="284.40" r="0.95" fill="#118a11" stroke="none" stroke-width="1"/>
<circle cx="440.20" cy="284.40" r="0.95" fill="#118a11" stroke="none" stroke-width="1"/>
<circle cx="441.45" cy="284.40" r="0.95" fill="#118a11" stroke="none" stroke-width="1"/>
<circle cx="442.70" cy="284.40" r="0.95" fill="#118a11" stroke="none" stroke-width="1"/>
<circle cx="443.95" cy="284.40" r="0.95" fill="#118a11" stroke="none" stroke-width="1"/>
<circle cx="445.20" cy="284.40" r="0.95" fill="#118a11" stroke="none" stroke-width="1"/>
<circle cx="446.45" cy="284.40" r="0.95" fill="#118a11" stroke="none" stroke-width="1"/>
<circle cx="447.70" cy="284.40" r="0.95" fill="#118a11" stroke="none" stroke-width="1"/>
<circle cx="448.95" cy="284.40" r="0.95" fill="#118a11" stroke="none" stroke-width="1"/>
<circle cx="450.20" cy="284.40" r="0.95" fill="#118a11" stroke="none" stroke-width="1"/>
<circle cx="451.45" cy="284.40" r="0.95" fill="#118a11" stroke="none" stroke-width="1"/>
<circle cx="452.70" cy="284.40" r="0.95" fill="#118a11" stroke="none" stroke-width="1"/>
<circle cx="453.95" cy="284.40" r="0.95" fill="#118a11" stroke="none" stroke-width="1"/>
<circle cx="455.20" cy="284.40" r="0.95" fill="#118a11" stroke="none" stroke-width="1"/>
<circle cx="456.45" cy="284.40" r="0.95" fill="#118a11" stroke="none" stroke-width="1"/>
<circle cx="457.70" cy="284.40" r="0.95" fill="#118a11" stroke="none" stroke-width="1"/>
<circle cx="458.95" cy="284.40" r="0.95" fill="#118a11" stroke="none" stroke-width="1"/>
<circle cx="461.00" cy="284.40" r="0.95" fill="#118a11" stroke="none" stroke-width="1"/>
<circle cx="462.25" cy="284.40" r="0.95" fill="#118a11" stroke="none" stroke-width="1"/>
<circle cx="463.50" cy="284.40" r="0.95" fill="#118a11" stroke="none" stroke-width="1"/>
<circle cx="465.00" cy="284.40" r="0.95" fill="#118a11" stroke="none" stroke-width="1"/>
<circle cx="466.25" cy="284.40" r="0.95" fill="#118a11" stroke="none" stroke-width="1"/>
<circle cx="467.50" cy="284.40" r="0.95" fill="#118a11" stroke="none" stroke-width="1"/>
<circle cx="469.00" cy="284.40" r="0.95" fill="#118a11" stroke="none" stroke-width="1"/>
<circle cx="470.25" cy="284.40" r="0.95" fill="#118a11" stroke="none" stroke-width="1"/>
<circle cx="471.50" cy="284.40" r="0.95" fill="#118a11" stroke="none" stroke-width="1"/>
<circle cx="473.00" cy="284.40" r="0.95" fill="#118a11" stroke="none" stroke-width="1"/>
<circle cx="474.25" cy="284.40" r="0.95" fill="#118a11" stroke="none" stroke-width="1"/>
<circle cx="482.40" cy="284.40" r="0.95" fill="#ee1111" stroke="none" stroke-width="1"/>
<circle cx="483.65" cy="284.40" r="0.95" fill="#ee1111" stroke="none" stroke-width="1"/>
<circle cx="484.90" cy="284.40" r="0.95" fill="#ee1111" stroke="none" stroke-width="1"/>
<circle cx="486.15" cy="284.40" r="0.95" fill="#ee1111" stroke="none" stroke-width="1"/>
<circle cx="487.40" cy="284.40" r="0.95" fill="#ee1111" stroke="none" stroke-width="1"/>
<circle cx="488.65" cy="284.40" r="0.95" fill="#ee1111" stroke="none" stroke-width="1"/>
<circle cx="489.90" cy="284.40" r="0.95" fill="#ee1111" stroke="none" stroke-width="1"/>
<circle cx="491.15" cy="284.40" r="0.95" fill="#ee1111" stroke="none" stroke-width="1"/>
<circle cx="492.40" cy="284.40" r="0.95" fill="#ee1111" stroke="none" stroke-width="1"/>
<circle cx="493.65" cy="284.40" r="0.95" fill="#ee1111" stroke="none" stroke-width="1"/>
<circle cx="494.90" cy="284.40" r="0.95" fill="#ee1111" stroke="none" stroke-width="1"/>
<circle cx="496.15" cy="284.40" r="0.95" fill="#ee1111" stroke="none" stroke-width="1"/>
<circle cx="497.40" cy="284.40" r="0.95" fill="#ee1111" stroke="none" stroke-width="1"/>
<circle cx="498.65" cy="284.40" r="0.95" fill="#ee1111" stroke="none" stroke-width="1"/>
<circle cx="499.90" cy="284.40" r="0.95" fill="#ee1111" stroke="none" stroke-width="1"/>
<circle cx="501.15" cy="284.40" r="0.95" fill="#ee1111" stroke="none" stroke-width="1"/>
<circle cx="502.40" cy="284.40" r="0.95" fill="#ee1111" stroke="none" stroke-width="1"/>
<circle cx="503.65" cy="284.40" r="0.95" fill="#ee1111" stroke="none" stroke-width="1"/>
<circle cx="504.90" cy="284.40" r="0.95" fill="#ee1111" stroke="none" stroke-width="1"/>
<circle cx="506.15" cy="284.40" r="0.95" fill="#ee1111" stroke="none" stroke-width="1"/>
<circle cx="507.40" cy="284.40" r="0.95" fill="#ee1111" stroke="none" stroke-width="1"/>
<circle cx="508.65" cy="284.40" r="0.95" fill="#ee1111" stroke="none" stroke-width="1"/>
<circle cx="509.90" cy="284.40" r="0.95" fill="#ee1111" stroke="none" stroke-width="1"/>
<circle cx="511.15" cy="284.40" r="0.95" fill="#ee1111" stroke="none" stroke-width="1"/>
<circle cx="512.40" cy="284.40" r="0.95" fill="#ee1111" stroke="none" stroke-width="1"/>
<circle cx="513.65" cy="284.40" r="0.95" fill="#ee1111" stroke="none" stroke-width="1"/>
<circle cx="514.90" cy="284.40" r="0.95" fill="#ee1111" stroke="none" stroke-width="1"/>
<circle cx="516.15" cy="284.40" r="0.95" fill="#ee1111" stroke="none" stroke-width="1"/>
<circle cx="517.40" cy="284.40" r="0.95" fill="#ee1111" stroke="none" stroke-width="1"/>
<circle cx="518.65" cy="284.40" r="0.95" fill="#ee1111" stroke="none" stroke-width="1"/>
<circle cx="519.90" cy="284.40" r="0.95" fill="#ee1111" stroke="none" stroke-width="1"/>
<circle cx="521.15" cy="284.40" r="0.95" fill="#ee1111" stroke="none" stroke-width="1"/>
<circle cx="522.40" cy="284.40" r="0.95" fill="#ee1111" stroke="none" stroke-width="1"/>
<circle cx="523.65" cy="284.40" r="0.95" fill="#ee1111" stroke="none" stroke-width="1"/>
<circle cx="526.15" cy="284.40" r="0.95" fill="#ee1111" stroke="none" stroke-width="1"/>
<circle cx="527.40" cy="284.40" r="0.95" fill="#ee1111" stroke="none" stroke-width="1"/>
<circle cx="528.65" cy="284.40" r="0.95" fill="#ee1111" stroke="none" stroke-width="1"/>
<circle cx="529.90" cy="284.40" r="0.95" fill="#ee1111" stroke="none" stroke-width="1"/>
<circle cx="531.15" cy="284.40" r="0.95" fill="#ee1111" stroke="none" stroke-width="1"/>
<rect x="491.50" y="265.50" width="43.00" height="14.50" fill="#fff" stroke="#d8d8d8" stroke-width="0.6" fill-opacity="0.85" rx="1"/>
<circle cx="497.30" cy="269.56" r="1.90" fill="#118a11" stroke="none" stroke-width="1"/>
<circle cx="497.30" cy="275.94" r="1.90" fill="#ee1111" stroke="none" stroke-width="1"/>
<text x="504.50" y="271.56" font-size="6" fill="#333" textLength="16" lengthAdjust="spacingAndGlyphs">Healthy</text>
<text x="504.50" y="277.94" font-size="6" fill="#333" textLength="28" lengthAdjust="spacingAndGlyphs">Lung Cancer</text>
<text x="363.30" y="331.00" font-size="15" fill="#111" stroke="#111" stroke-width="0.45" textLength="12.5" lengthAdjust="spacingAndGlyphs">(i)</text>
<rect x="403.00" y="320.30" width="134.00" height="86.50" fill="none" stroke="#8c8c8c" stroke-width="1" />
<line x1="404.00" y1="406.80" x2="404.00" y2="408.80" stroke="#555" stroke-width="0.6" />
<text x="404.00" y="413.00" font-size="4.8" fill="#444" text-anchor="middle">−100</text>
<line x1="426.75" y1="406.80" x2="426.75" y2="408.80" stroke="#555" stroke-width="0.6" />
<text x="426.75" y="413.00" font-size="4.8" fill="#444" text-anchor="middle">−50</text>
<line x1="449.50" y1="406.80" x2="449.50" y2="408.80" stroke="#555" stroke-width="0.6" />
<text x="449.50" y="413.00" font-size="4.8" fill="#444" text-anchor="middle">0</text>
<line x1="472.25" y1="406.80" x2="472.25" y2="408.80" stroke="#555" stroke-width="0.6" />
<text x="472.25" y="413.00" font-size="4.8" fill="#444" text-anchor="middle">50</text>
<line x1="495.00" y1="406.80" x2="495.00" y2="408.80" stroke="#555" stroke-width="0.6" />
<text x="495.00" y="413.00" font-size="4.8" fill="#444" text-anchor="middle">100</text>
<line x1="517.75" y1="406.80" x2="517.75" y2="408.80" stroke="#555" stroke-width="0.6" />
<text x="517.75" y="413.00" font-size="4.8" fill="#444" text-anchor="middle">150</text>
<line x1="401.00" y1="326.40" x2="403.00" y2="326.40" stroke="#555" stroke-width="0.6" />
<text x="399.80" y="328.10" font-size="4.8" fill="#444" text-anchor="end">6</text>
<line x1="401.00" y1="339.20" x2="403.00" y2="339.20" stroke="#555" stroke-width="0.6" />
<text x="399.80" y="340.90" font-size="4.8" fill="#444" text-anchor="end">4</text>
<line x1="401.00" y1="352.00" x2="403.00" y2="352.00" stroke="#555" stroke-width="0.6" />
<text x="399.80" y="353.70" font-size="4.8" fill="#444" text-anchor="end">2</text>
<line x1="401.00" y1="364.80" x2="403.00" y2="364.80" stroke="#555" stroke-width="0.6" />
<text x="399.80" y="366.50" font-size="4.8" fill="#444" text-anchor="end">0</text>
<line x1="401.00" y1="377.60" x2="403.00" y2="377.60" stroke="#555" stroke-width="0.6" />
<text x="399.80" y="379.30" font-size="4.8" fill="#444" text-anchor="end">−2</text>
<line x1="401.00" y1="390.40" x2="403.00" y2="390.40" stroke="#555" stroke-width="0.6" />
<text x="399.80" y="392.10" font-size="4.8" fill="#444" text-anchor="end">−4</text>
<line x1="401.00" y1="403.20" x2="403.00" y2="403.20" stroke="#555" stroke-width="0.6" />
<text x="399.80" y="404.90" font-size="4.8" fill="#444" text-anchor="end">−6</text>
<text x="389.50" y="357.00" font-size="8.4" fill="#222" text-anchor="middle" transform="rotate(-90 389.50 357.00)" textLength="45" lengthAdjust="spacingAndGlyphs">LDA feature</text>
<text x="465.30" y="422.00" font-size="8.4" fill="#222" text-anchor="middle" textLength="69.3" lengthAdjust="spacingAndGlyphs">1st PCA component</text>
<circle cx="429.70" cy="360.40" r="1.85" fill="#118a11" stroke="none" stroke-width="1"/>
<circle cx="432.80" cy="361.40" r="1.85" fill="#118a11" stroke="none" stroke-width="1"/>
<circle cx="441.30" cy="363.60" r="1.85" fill="#118a11" stroke="none" stroke-width="1"/>
<circle cx="439.20" cy="367.80" r="1.85" fill="#118a11" stroke="none" stroke-width="1"/>
<circle cx="417.40" cy="365.70" r="1.85" fill="#118a11" stroke="none" stroke-width="1"/>
<circle cx="426.50" cy="371.00" r="1.85" fill="#118a11" stroke="none" stroke-width="1"/>
<circle cx="410.60" cy="375.20" r="1.85" fill="#118a11" stroke="none" stroke-width="1"/>
<circle cx="414.80" cy="376.30" r="1.85" fill="#118a11" stroke="none" stroke-width="1"/>
<circle cx="419.10" cy="373.10" r="1.85" fill="#118a11" stroke="none" stroke-width="1"/>
<circle cx="437.10" cy="374.10" r="1.85" fill="#118a11" stroke="none" stroke-width="1"/>
<circle cx="455.10" cy="372.00" r="1.85" fill="#118a11" stroke="none" stroke-width="1"/>
<circle cx="420.10" cy="379.40" r="1.85" fill="#118a11" stroke="none" stroke-width="1"/>
<circle cx="422.20" cy="381.60" r="1.85" fill="#118a11" stroke="none" stroke-width="1"/>
<circle cx="425.40" cy="378.40" r="1.85" fill="#118a11" stroke="none" stroke-width="1"/>
<circle cx="427.50" cy="376.30" r="1.85" fill="#118a11" stroke="none" stroke-width="1"/>
<circle cx="429.70" cy="379.40" r="1.85" fill="#118a11" stroke="none" stroke-width="1"/>
<circle cx="431.80" cy="377.30" r="1.85" fill="#118a11" stroke="none" stroke-width="1"/>
<circle cx="433.90" cy="381.60" r="1.85" fill="#118a11" stroke="none" stroke-width="1"/>
<circle cx="437.10" cy="380.50" r="1.85" fill="#118a11" stroke="none" stroke-width="1"/>
<circle cx="440.30" cy="380.50" r="1.85" fill="#118a11" stroke="none" stroke-width="1"/>
<circle cx="443.40" cy="381.60" r="1.85" fill="#118a11" stroke="none" stroke-width="1"/>
<circle cx="446.60" cy="379.40" r="1.85" fill="#118a11" stroke="none" stroke-width="1"/>
<circle cx="449.80" cy="381.60" r="1.85" fill="#118a11" stroke="none" stroke-width="1"/>
<circle cx="453.00" cy="380.50" r="1.85" fill="#118a11" stroke="none" stroke-width="1"/>
<circle cx="456.10" cy="381.60" r="1.85" fill="#118a11" stroke="none" stroke-width="1"/>
<circle cx="459.30" cy="380.50" r="1.85" fill="#118a11" stroke="none" stroke-width="1"/>
<circle cx="462.50" cy="379.40" r="1.85" fill="#118a11" stroke="none" stroke-width="1"/>
<circle cx="466.70" cy="381.60" r="1.85" fill="#118a11" stroke="none" stroke-width="1"/>
<circle cx="418.00" cy="385.80" r="1.85" fill="#118a11" stroke="none" stroke-width="1"/>
<circle cx="421.20" cy="384.70" r="1.85" fill="#118a11" stroke="none" stroke-width="1"/>
<circle cx="424.40" cy="386.90" r="1.85" fill="#118a11" stroke="none" stroke-width="1"/>
<circle cx="426.50" cy="383.70" r="1.85" fill="#118a11" stroke="none" stroke-width="1"/>
<circle cx="429.70" cy="385.80" r="1.85" fill="#118a11" stroke="none" stroke-width="1"/>
<circle cx="431.80" cy="389.00" r="1.85" fill="#118a11" stroke="none" stroke-width="1"/>
<circle cx="433.90" cy="384.70" r="1.85" fill="#118a11" stroke="none" stroke-width="1"/>
<circle cx="437.10" cy="385.80" r="1.85" fill="#118a11" stroke="none" stroke-width="1"/>
<circle cx="439.20" cy="389.00" r="1.85" fill="#118a11" stroke="none" stroke-width="1"/>
<circle cx="441.30" cy="385.80" r="1.85" fill="#118a11" stroke="none" stroke-width="1"/>
<circle cx="444.50" cy="386.90" r="1.85" fill="#118a11" stroke="none" stroke-width="1"/>
<circle cx="447.70" cy="384.70" r="1.85" fill="#118a11" stroke="none" stroke-width="1"/>
<circle cx="449.80" cy="388.00" r="1.85" fill="#118a11" stroke="none" stroke-width="1"/>
<circle cx="453.00" cy="385.80" r="1.85" fill="#118a11" stroke="none" stroke-width="1"/>
<circle cx="457.20" cy="384.70" r="1.85" fill="#118a11" stroke="none" stroke-width="1"/>
<circle cx="461.40" cy="385.80" r="1.85" fill="#118a11" stroke="none" stroke-width="1"/>
<circle cx="464.60" cy="383.70" r="1.85" fill="#118a11" stroke="none" stroke-width="1"/>
<circle cx="468.90" cy="385.80" r="1.85" fill="#118a11" stroke="none" stroke-width="1"/>
<circle cx="411.70" cy="391.10" r="1.85" fill="#118a11" stroke="none" stroke-width="1"/>
<circle cx="421.20" cy="391.10" r="1.85" fill="#118a11" stroke="none" stroke-width="1"/>
<circle cx="424.40" cy="393.20" r="1.85" fill="#118a11" stroke="none" stroke-width="1"/>
<circle cx="427.50" cy="391.10" r="1.85" fill="#118a11" stroke="none" stroke-width="1"/>
<circle cx="433.90" cy="395.30" r="1.85" fill="#118a11" stroke="none" stroke-width="1"/>
<circle cx="442.40" cy="394.30" r="1.85" fill="#118a11" stroke="none" stroke-width="1"/>
<circle cx="445.60" cy="392.20" r="1.85" fill="#118a11" stroke="none" stroke-width="1"/>
<circle cx="453.00" cy="391.10" r="1.85" fill="#118a11" stroke="none" stroke-width="1"/>
<circle cx="450.80" cy="389.00" r="1.85" fill="#118a11" stroke="none" stroke-width="1"/>
<circle cx="461.40" cy="391.10" r="1.85" fill="#118a11" stroke="none" stroke-width="1"/>
<circle cx="411.70" cy="395.30" r="1.85" fill="#118a11" stroke="none" stroke-width="1"/>
<circle cx="422.20" cy="399.60" r="1.85" fill="#118a11" stroke="none" stroke-width="1"/>
<circle cx="426.50" cy="402.70" r="1.85" fill="#118a11" stroke="none" stroke-width="1"/>
<circle cx="435.00" cy="395.30" r="1.85" fill="#118a11" stroke="none" stroke-width="1"/>
<circle cx="448.70" cy="400.60" r="1.85" fill="#118a11" stroke="none" stroke-width="1"/>
<circle cx="461.40" cy="396.40" r="1.85" fill="#118a11" stroke="none" stroke-width="1"/>
<circle cx="470.30" cy="378.40" r="1.85" fill="#118a11" stroke="none" stroke-width="1"/>
<circle cx="478.80" cy="379.40" r="1.85" fill="#118a11" stroke="none" stroke-width="1"/>
<circle cx="466.10" cy="385.80" r="1.85" fill="#118a11" stroke="none" stroke-width="1"/>
<circle cx="468.20" cy="386.90" r="1.85" fill="#118a11" stroke="none" stroke-width="1"/>
<circle cx="471.40" cy="384.70" r="1.85" fill="#118a11" stroke="none" stroke-width="1"/>
<circle cx="474.50" cy="383.70" r="1.85" fill="#118a11" stroke="none" stroke-width="1"/>
<circle cx="476.60" cy="385.80" r="1.85" fill="#118a11" stroke="none" stroke-width="1"/>
<circle cx="479.80" cy="386.90" r="1.85" fill="#118a11" stroke="none" stroke-width="1"/>
<circle cx="481.90" cy="384.70" r="1.85" fill="#118a11" stroke="none" stroke-width="1"/>
<circle cx="485.10" cy="385.80" r="1.85" fill="#118a11" stroke="none" stroke-width="1"/>
<circle cx="487.20" cy="383.70" r="1.85" fill="#118a11" stroke="none" stroke-width="1"/>
<circle cx="489.40" cy="386.90" r="1.85" fill="#118a11" stroke="none" stroke-width="1"/>
<circle cx="491.50" cy="385.80" r="1.85" fill="#118a11" stroke="none" stroke-width="1"/>
<circle cx="493.60" cy="388.00" r="1.85" fill="#118a11" stroke="none" stroke-width="1"/>
<circle cx="496.80" cy="386.90" r="1.85" fill="#118a11" stroke="none" stroke-width="1"/>
<circle cx="501.10" cy="386.90" r="1.85" fill="#118a11" stroke="none" stroke-width="1"/>
<circle cx="505.30" cy="385.80" r="1.85" fill="#118a11" stroke="none" stroke-width="1"/>
<circle cx="507.40" cy="386.90" r="1.85" fill="#118a11" stroke="none" stroke-width="1"/>
<circle cx="477.70" cy="389.00" r="1.85" fill="#118a11" stroke="none" stroke-width="1"/>
<circle cx="480.90" cy="389.00" r="1.85" fill="#118a11" stroke="none" stroke-width="1"/>
<circle cx="488.30" cy="388.00" r="1.85" fill="#118a11" stroke="none" stroke-width="1"/>
<circle cx="525.40" cy="385.40" r="1.85" fill="#118a11" stroke="none" stroke-width="1"/>
<circle cx="468.32" cy="383.68" r="1.85" fill="#118a11" stroke="none" stroke-width="1"/>
<circle cx="495.17" cy="377.78" r="1.85" fill="#118a11" stroke="none" stroke-width="1"/>
<circle cx="478.15" cy="384.75" r="1.85" fill="#118a11" stroke="none" stroke-width="1"/>
<circle cx="455.11" cy="383.60" r="1.85" fill="#118a11" stroke="none" stroke-width="1"/>
<circle cx="495.24" cy="379.54" r="1.85" fill="#118a11" stroke="none" stroke-width="1"/>
<circle cx="425.51" cy="377.94" r="1.85" fill="#118a11" stroke="none" stroke-width="1"/>
<circle cx="455.40" cy="384.09" r="1.85" fill="#118a11" stroke="none" stroke-width="1"/>
<circle cx="464.21" cy="388.38" r="1.85" fill="#118a11" stroke="none" stroke-width="1"/>
<circle cx="417.10" cy="384.59" r="1.85" fill="#118a11" stroke="none" stroke-width="1"/>
<circle cx="492.97" cy="386.77" r="1.85" fill="#118a11" stroke="none" stroke-width="1"/>
<circle cx="480.32" cy="387.36" r="1.85" fill="#118a11" stroke="none" stroke-width="1"/>
<circle cx="427.66" cy="389.27" r="1.85" fill="#118a11" stroke="none" stroke-width="1"/>
<circle cx="467.87" cy="384.15" r="1.85" fill="#118a11" stroke="none" stroke-width="1"/>
<circle cx="489.20" cy="384.15" r="1.85" fill="#118a11" stroke="none" stroke-width="1"/>
<circle cx="433.59" cy="386.14" r="1.85" fill="#118a11" stroke="none" stroke-width="1"/>
<circle cx="489.28" cy="393.72" r="1.85" fill="#118a11" stroke="none" stroke-width="1"/>
<circle cx="440.30" cy="388.23" r="1.85" fill="#118a11" stroke="none" stroke-width="1"/>
<circle cx="472.94" cy="382.96" r="1.85" fill="#118a11" stroke="none" stroke-width="1"/>
<circle cx="433.20" cy="389.00" r="1.85" fill="#118a11" stroke="none" stroke-width="1"/>
<circle cx="497.19" cy="382.06" r="1.85" fill="#118a11" stroke="none" stroke-width="1"/>
<circle cx="491.07" cy="383.00" r="1.85" fill="#118a11" stroke="none" stroke-width="1"/>
<circle cx="429.94" cy="387.16" r="1.85" fill="#118a11" stroke="none" stroke-width="1"/>
<circle cx="428.24" cy="386.72" r="1.85" fill="#118a11" stroke="none" stroke-width="1"/>
<circle cx="466.66" cy="385.18" r="1.85" fill="#118a11" stroke="none" stroke-width="1"/>
<circle cx="416.28" cy="382.61" r="1.85" fill="#118a11" stroke="none" stroke-width="1"/>
<circle cx="442.04" cy="381.14" r="1.85" fill="#118a11" stroke="none" stroke-width="1"/>
<circle cx="484.76" cy="380.97" r="1.85" fill="#118a11" stroke="none" stroke-width="1"/>
<circle cx="456.42" cy="384.37" r="1.85" fill="#118a11" stroke="none" stroke-width="1"/>
<circle cx="475.19" cy="392.91" r="1.85" fill="#118a11" stroke="none" stroke-width="1"/>
<circle cx="417.92" cy="387.33" r="1.85" fill="#118a11" stroke="none" stroke-width="1"/>
<circle cx="478.98" cy="384.38" r="1.85" fill="#118a11" stroke="none" stroke-width="1"/>
<circle cx="482.17" cy="383.45" r="1.85" fill="#118a11" stroke="none" stroke-width="1"/>
<circle cx="446.76" cy="383.58" r="1.85" fill="#118a11" stroke="none" stroke-width="1"/>
<circle cx="419.93" cy="383.78" r="1.85" fill="#118a11" stroke="none" stroke-width="1"/>
<circle cx="431.20" cy="386.22" r="1.85" fill="#118a11" stroke="none" stroke-width="1"/>
<circle cx="409.50" cy="339.20" r="1.85" fill="#ee1111" stroke="none" stroke-width="1"/>
<circle cx="412.70" cy="338.10" r="1.85" fill="#ee1111" stroke="none" stroke-width="1"/>
<circle cx="415.90" cy="337.10" r="1.85" fill="#ee1111" stroke="none" stroke-width="1"/>
<circle cx="419.10" cy="333.90" r="1.85" fill="#ee1111" stroke="none" stroke-width="1"/>
<circle cx="420.10" cy="336.00" r="1.85" fill="#ee1111" stroke="none" stroke-width="1"/>
<circle cx="421.20" cy="339.20" r="1.85" fill="#ee1111" stroke="none" stroke-width="1"/>
<circle cx="422.20" cy="337.10" r="1.85" fill="#ee1111" stroke="none" stroke-width="1"/>
<circle cx="425.40" cy="335.00" r="1.85" fill="#ee1111" stroke="none" stroke-width="1"/>
<circle cx="427.50" cy="332.80" r="1.85" fill="#ee1111" stroke="none" stroke-width="1"/>
<circle cx="428.60" cy="336.00" r="1.85" fill="#ee1111" stroke="none" stroke-width="1"/>
<circle cx="430.70" cy="338.10" r="1.85" fill="#ee1111" stroke="none" stroke-width="1"/>
<circle cx="431.80" cy="335.00" r="1.85" fill="#ee1111" stroke="none" stroke-width="1"/>
<circle cx="433.90" cy="339.20" r="1.85" fill="#ee1111" stroke="none" stroke-width="1"/>
<circle cx="436.00" cy="333.90" r="1.85" fill="#ee1111" stroke="none" stroke-width="1"/>
<circle cx="437.10" cy="338.10" r="1.85" fill="#ee1111" stroke="none" stroke-width="1"/>
<circle cx="439.20" cy="336.00" r="1.85" fill="#ee1111" stroke="none" stroke-width="1"/>
<circle cx="440.30" cy="339.20" r="1.85" fill="#ee1111" stroke="none" stroke-width="1"/>
<circle cx="442.40" cy="337.10" r="1.85" fill="#ee1111" stroke="none" stroke-width="1"/>
<circle cx="443.40" cy="332.80" r="1.85" fill="#ee1111" stroke="none" stroke-width="1"/>
<circle cx="444.50" cy="329.70" r="1.85" fill="#ee1111" stroke="none" stroke-width="1"/>
<circle cx="445.60" cy="326.50" r="1.85" fill="#ee1111" stroke="none" stroke-width="1"/>
<circle cx="447.70" cy="324.40" r="1.85" fill="#ee1111" stroke="none" stroke-width="1"/>
<circle cx="446.60" cy="335.00" r="1.85" fill="#ee1111" stroke="none" stroke-width="1"/>
<circle cx="448.70" cy="338.10" r="1.85" fill="#ee1111" stroke="none" stroke-width="1"/>
<circle cx="450.80" cy="332.80" r="1.85" fill="#ee1111" stroke="none" stroke-width="1"/>
<circle cx="451.90" cy="329.70" r="1.85" fill="#ee1111" stroke="none" stroke-width="1"/>
<circle cx="454.00" cy="326.50" r="1.85" fill="#ee1111" stroke="none" stroke-width="1"/>
<circle cx="456.10" cy="324.40" r="1.85" fill="#ee1111" stroke="none" stroke-width="1"/>
<circle cx="455.10" cy="330.70" r="1.85" fill="#ee1111" stroke="none" stroke-width="1"/>
<circle cx="457.20" cy="333.90" r="1.85" fill="#ee1111" stroke="none" stroke-width="1"/>
<circle cx="458.30" cy="337.10" r="1.85" fill="#ee1111" stroke="none" stroke-width="1"/>
<circle cx="460.40" cy="336.00" r="1.85" fill="#ee1111" stroke="none" stroke-width="1"/>
<circle cx="462.50" cy="339.20" r="1.85" fill="#ee1111" stroke="none" stroke-width="1"/>
<circle cx="464.60" cy="337.10" r="1.85" fill="#ee1111" stroke="none" stroke-width="1"/>
<circle cx="467.80" cy="338.10" r="1.85" fill="#ee1111" stroke="none" stroke-width="1"/>
<circle cx="437.10" cy="342.40" r="1.85" fill="#ee1111" stroke="none" stroke-width="1"/>
<circle cx="431.80" cy="343.40" r="1.85" fill="#ee1111" stroke="none" stroke-width="1"/>
<circle cx="439.20" cy="341.30" r="1.85" fill="#ee1111" stroke="none" stroke-width="1"/>
<circle cx="441.30" cy="343.40" r="1.85" fill="#ee1111" stroke="none" stroke-width="1"/>
<circle cx="444.50" cy="345.50" r="1.85" fill="#ee1111" stroke="none" stroke-width="1"/>
<circle cx="450.80" cy="340.20" r="1.85" fill="#ee1111" stroke="none" stroke-width="1"/>
<circle cx="454.00" cy="339.20" r="1.85" fill="#ee1111" stroke="none" stroke-width="1"/>
<circle cx="457.20" cy="347.70" r="1.85" fill="#ee1111" stroke="none" stroke-width="1"/>
<circle cx="424.40" cy="348.70" r="1.85" fill="#ee1111" stroke="none" stroke-width="1"/>
<circle cx="426.50" cy="349.80" r="1.85" fill="#ee1111" stroke="none" stroke-width="1"/>
<circle cx="428.60" cy="350.80" r="1.85" fill="#ee1111" stroke="none" stroke-width="1"/>
<circle cx="431.80" cy="353.00" r="1.85" fill="#ee1111" stroke="none" stroke-width="1"/>
<circle cx="435.00" cy="354.00" r="1.85" fill="#ee1111" stroke="none" stroke-width="1"/>
<circle cx="439.20" cy="354.00" r="1.85" fill="#ee1111" stroke="none" stroke-width="1"/>
<circle cx="441.30" cy="351.90" r="1.85" fill="#ee1111" stroke="none" stroke-width="1"/>
<circle cx="440.30" cy="347.70" r="1.85" fill="#ee1111" stroke="none" stroke-width="1"/>
<circle cx="444.50" cy="361.40" r="1.85" fill="#ee1111" stroke="none" stroke-width="1"/>
<circle cx="466.10" cy="335.00" r="1.85" fill="#ee1111" stroke="none" stroke-width="1"/>
<circle cx="468.20" cy="338.10" r="1.85" fill="#ee1111" stroke="none" stroke-width="1"/>
<circle cx="470.30" cy="336.00" r="1.85" fill="#ee1111" stroke="none" stroke-width="1"/>
<circle cx="472.40" cy="339.20" r="1.85" fill="#ee1111" stroke="none" stroke-width="1"/>
<circle cx="474.50" cy="335.00" r="1.85" fill="#ee1111" stroke="none" stroke-width="1"/>
<circle cx="476.60" cy="337.10" r="1.85" fill="#ee1111" stroke="none" stroke-width="1"/>
<circle cx="479.80" cy="338.10" r="1.85" fill="#ee1111" stroke="none" stroke-width="1"/>
<circle cx="481.90" cy="336.00" r="1.85" fill="#ee1111" stroke="none" stroke-width="1"/>
<circle cx="485.10" cy="335.00" r="1.85" fill="#ee1111" stroke="none" stroke-width="1"/>
<circle cx="487.20" cy="336.00" r="1.85" fill="#ee1111" stroke="none" stroke-width="1"/>
<circle cx="489.40" cy="337.10" r="1.85" fill="#ee1111" stroke="none" stroke-width="1"/>
<circle cx="492.50" cy="333.90" r="1.85" fill="#ee1111" stroke="none" stroke-width="1"/>
<circle cx="494.70" cy="336.00" r="1.85" fill="#ee1111" stroke="none" stroke-width="1"/>
<circle cx="496.80" cy="338.10" r="1.85" fill="#ee1111" stroke="none" stroke-width="1"/>
<circle cx="500.00" cy="338.10" r="1.85" fill="#ee1111" stroke="none" stroke-width="1"/>
<circle cx="502.10" cy="338.10" r="1.85" fill="#ee1111" stroke="none" stroke-width="1"/>
<circle cx="509.90" cy="336.40" r="1.85" fill="#ee1111" stroke="none" stroke-width="1"/>
<circle cx="518.00" cy="336.00" r="1.85" fill="#ee1111" stroke="none" stroke-width="1"/>
<circle cx="529.60" cy="333.90" r="1.85" fill="#ee1111" stroke="none" stroke-width="1"/>
<circle cx="478.80" cy="347.70" r="1.85" fill="#ee1111" stroke="none" stroke-width="1"/>
<circle cx="465.00" cy="339.20" r="1.85" fill="#ee1111" stroke="none" stroke-width="1"/>
<circle cx="478.50" cy="336.10" r="1.85" fill="#ee1111" stroke="none" stroke-width="1"/>
<circle cx="493.81" cy="338.39" r="1.85" fill="#ee1111" stroke="none" stroke-width="1"/>
<circle cx="443.22" cy="335.78" r="1.85" fill="#ee1111" stroke="none" stroke-width="1"/>
<circle cx="458.17" cy="336.67" r="1.85" fill="#ee1111" stroke="none" stroke-width="1"/>
<circle cx="477.86" cy="335.46" r="1.85" fill="#ee1111" stroke="none" stroke-width="1"/>
<circle cx="482.16" cy="336.88" r="1.85" fill="#ee1111" stroke="none" stroke-width="1"/>
<circle cx="495.23" cy="336.04" r="1.85" fill="#ee1111" stroke="none" stroke-width="1"/>
<circle cx="420.02" cy="334.87" r="1.85" fill="#ee1111" stroke="none" stroke-width="1"/>
<circle cx="492.79" cy="339.04" r="1.85" fill="#ee1111" stroke="none" stroke-width="1"/>
<circle cx="441.92" cy="338.95" r="1.85" fill="#ee1111" stroke="none" stroke-width="1"/>
<circle cx="439.50" cy="335.23" r="1.85" fill="#ee1111" stroke="none" stroke-width="1"/>
<circle cx="439.88" cy="336.89" r="1.85" fill="#ee1111" stroke="none" stroke-width="1"/>
<circle cx="425.10" cy="337.30" r="1.85" fill="#ee1111" stroke="none" stroke-width="1"/>
<circle cx="472.65" cy="337.81" r="1.85" fill="#ee1111" stroke="none" stroke-width="1"/>
<circle cx="416.27" cy="336.47" r="1.85" fill="#ee1111" stroke="none" stroke-width="1"/>
<circle cx="498.83" cy="334.30" r="1.85" fill="#ee1111" stroke="none" stroke-width="1"/>
<circle cx="432.89" cy="336.03" r="1.85" fill="#ee1111" stroke="none" stroke-width="1"/>
<circle cx="464.27" cy="337.62" r="1.85" fill="#ee1111" stroke="none" stroke-width="1"/>
<circle cx="449.11" cy="334.35" r="1.85" fill="#ee1111" stroke="none" stroke-width="1"/>
<circle cx="416.90" cy="336.99" r="1.85" fill="#ee1111" stroke="none" stroke-width="1"/>
<circle cx="455.43" cy="336.21" r="1.85" fill="#ee1111" stroke="none" stroke-width="1"/>
<circle cx="485.78" cy="338.93" r="1.85" fill="#ee1111" stroke="none" stroke-width="1"/>
<circle cx="495.58" cy="339.11" r="1.85" fill="#ee1111" stroke="none" stroke-width="1"/>
<circle cx="467.48" cy="336.75" r="1.85" fill="#ee1111" stroke="none" stroke-width="1"/>
<circle cx="450.24" cy="335.48" r="1.85" fill="#ee1111" stroke="none" stroke-width="1"/>
<rect x="491.80" y="390.20" width="42.90" height="14.70" fill="#fff" stroke="#d8d8d8" stroke-width="0.6" fill-opacity="0.85" rx="1"/>
<circle cx="497.60" cy="394.32" r="1.90" fill="#118a11" stroke="none" stroke-width="1"/>
<circle cx="497.60" cy="400.78" r="1.90" fill="#ee1111" stroke="none" stroke-width="1"/>
<text x="504.80" y="396.32" font-size="6" fill="#333" textLength="16" lengthAdjust="spacingAndGlyphs">Healthy</text>
<text x="504.80" y="402.78" font-size="6" fill="#333" textLength="28" lengthAdjust="spacingAndGlyphs">Lung Cancer</text>
</svg></body></html>
